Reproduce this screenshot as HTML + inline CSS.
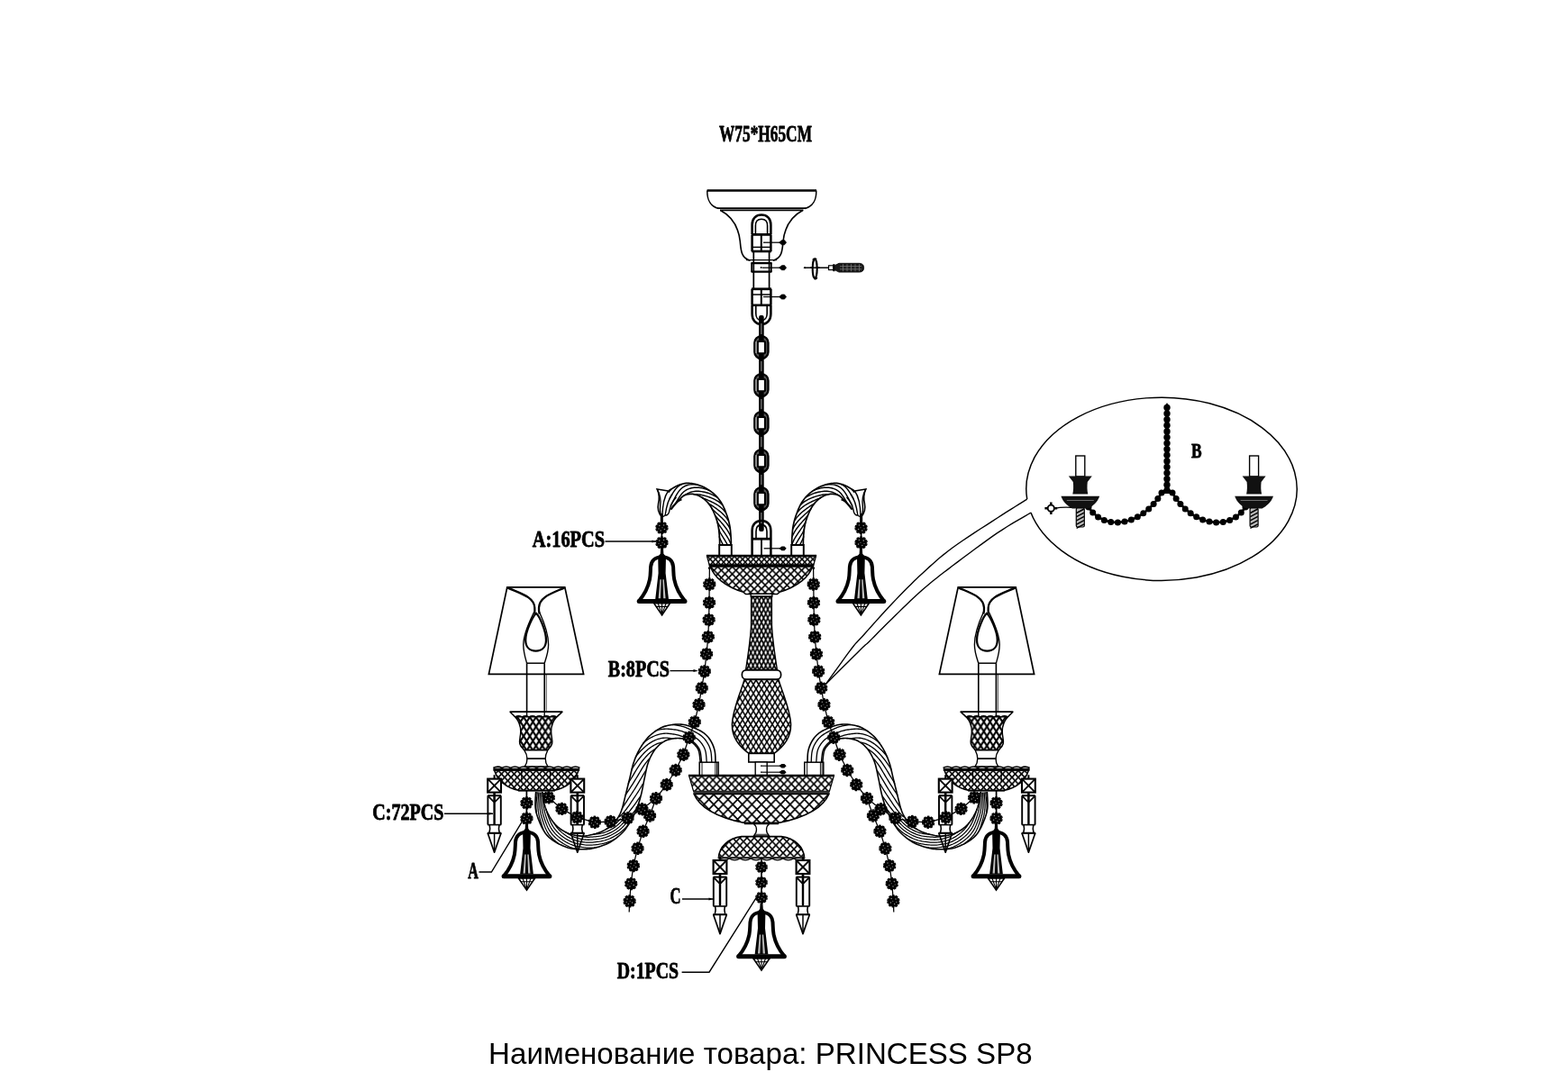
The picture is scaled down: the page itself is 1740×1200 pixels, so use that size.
<!DOCTYPE html>
<html lang="ru"><head><meta charset="utf-8"><title>PRINCESS SP8</title>
<style>html,body{margin:0;padding:0;background:#fff}svg{display:block;will-change:transform;filter:grayscale(1)}</style></head>
<body>
<svg width="1740" height="1200" viewBox="0 0 1740 1200">
<rect width="1740" height="1200" fill="#fff"/>
<defs>
<g id="bead"><circle r="6.3" fill="#000"/><circle r="6.55" fill="none" stroke="#000" stroke-width="1.3" stroke-dasharray="2.7 1.415"/><circle cx="-2.6" cy="-2.4" r="0.8" fill="#909090"/><circle cx="2.2" cy="-3" r="0.75" fill="#909090"/><circle cx="3" cy="1.6" r="0.8" fill="#909090"/><circle cx="-1.2" cy="3.1" r="0.75" fill="#909090"/><circle cx="-3.4" cy="1" r="0.6" fill="#909090"/><circle cx="0.6" cy="-0.2" r="0.55" fill="#909090"/></g>
<pattern id="hx" width="4.6" height="4.6" patternUnits="userSpaceOnUse"><path d="M-1 -1L5.6 5.6M-1 5.6L5.6 -1M-1 3.6L1 5.6M3.6 -1L5.6 1M-1 1L1 -1M3.6 5.6L5.6 3.6" stroke="#000" stroke-width="1.15" fill="none"/></pattern>
<pattern id="hx2" width="5.4" height="5.4" patternUnits="userSpaceOnUse"><path d="M0 0L5.4 5.4M0 5.4L5.4 0" stroke="#000" stroke-width="1.15" fill="none"/></pattern>
<pattern id="net" width="5.5" height="11" patternUnits="userSpaceOnUse" x="845" y="0"><path d="M0 0L5.5 11M0 11L5.5 0" stroke="#000" stroke-width="1.1" fill="none"/></pattern>
<pattern id="net2" width="6" height="10" patternUnits="userSpaceOnUse" x="845" y="0"><path d="M0 0L6 10M0 10L6 0" stroke="#000" stroke-width="1.1" fill="none"/></pattern>
<pattern id="cup" width="5.2" height="7.4" patternUnits="userSpaceOnUse" x="594.6" y="795"><path d="M0 0L5.2 7.4M0 7.4L5.2 0" stroke="#000" stroke-width="1.6" fill="none"/></pattern>
<g id="bell"><path d="M-25.6 51C-19.6 44 -15.4 36 -13.6 27C-12.6 22 -12.8 17 -12.5 13C-12 6.6 -7.6 2.1 0 2.1C7.6 2.1 12 6.6 12.5 13C12.8 17 12.6 22 13.6 27C15.4 36 19.6 44 25.6 51" fill="none" stroke="#000" stroke-width="4" stroke-linejoin="round"/><path d="M-25.4 51.2H25.4" stroke="#000" stroke-width="5" fill="none" stroke-linecap="round"/><path d="M-1.4 -8L-1.8 -1.5L-5 2.5H5L1.8 -1.5L1.4 -8Z" fill="#000"/><path d="M-4.4 2H4.4L4 20L7.4 49H-7.4L-4 20Z" fill="#000"/><path d="M-2.2 27L-4 48H-1.6L-0.8 27ZM2.2 27L4 48H1.6L0.8 27Z" fill="#fff" opacity="0.75"/><path d="M-9 53.4L0 66.6L9 53.4Z" fill="#fff" stroke="#000" stroke-width="1.6" stroke-linejoin="miter"/><path d="M-4.5 53.4L0 66M4.5 53.4L0 66M0 53.4V66M-6.6 57.2H6.6" stroke="#000" stroke-width="1.1" fill="none"/></g>
<g id="crystal" fill="none" stroke="#000" stroke-width="1.8"><path d="M0 -4V0" stroke-width="2"/><rect x="-7.4" y="0.4" width="14.8" height="15" fill="#fff" stroke-width="2.1"/><path d="M-7.4 0.4L7.4 15.4M7.4 0.4L-7.4 15.4" stroke-width="1.9"/><path d="M0 15.5V26" stroke-width="2.6"/><path d="M-7.4 19H7.4" stroke-width="2"/><path d="M-7.2 19V51.2M7.2 19V51.2" stroke-width="1.9"/><path d="M-7 19.5L0 26.6L7 19.5" stroke-width="1.8"/><path d="M0 26.6V51" stroke-width="2.4"/><path d="M-7.6 51.4H7.6" stroke-width="1.6"/><path d="M-5.4 51.4C-4.6 54.5 -4.6 57 -5.6 60M5.4 51.4C4.6 54.5 4.6 57 5.6 60" stroke-width="1.6"/><path d="M-7.8 60.6H7.8" stroke-width="2.1"/><path d="M-7.4 60.6L0 82L7.4 60.6" stroke-width="1.7" stroke-linejoin="round"/><path d="M0 60.6V81" stroke-width="1.5"/></g>
<g id="link"><rect x="-7.6" y="-12.5" width="15.2" height="25" rx="7.4" fill="#555" stroke="#000" stroke-width="2.3"/><rect x="-4.1" y="-6.8" width="8.2" height="13.6" rx="1.6" fill="#fff" stroke="#000" stroke-width="2.2"/><path d="M-5.9 -6.5V6.5" stroke="#ddd" stroke-width="1" fill="none"/></g>
<pattern id="ubrim" width="6" height="6.4" patternUnits="userSpaceOnUse" x="845" y="617.6"><path d="M0 0L6 6.4M0 6.4L6 0" stroke="#000" stroke-width="1.55" fill="none" stroke-linecap="square"/></pattern>
<pattern id="ubowl" width="8.1" height="8.2" patternUnits="userSpaceOnUse" x="845" y="629"><path d="M0 0L8.1 8.2M0 8.2L8.1 0" stroke="#000" stroke-width="1.67" fill="none" stroke-linecap="square"/></pattern>
<pattern id="lbrim" width="8.3" height="8.8" patternUnits="userSpaceOnUse" x="845" y="861.5"><path d="M0 0L8.3 8.8M0 8.8L8.3 0" stroke="#000" stroke-width="1.61" fill="none" stroke-linecap="square"/></pattern>
<pattern id="lbowl" width="10.6" height="11" patternUnits="userSpaceOnUse" x="845" y="882"><path d="M0 0L10.6 11M0 11L10.6 0" stroke="#000" stroke-width="1.67" fill="none" stroke-linecap="square"/></pattern>
<pattern id="stem" width="4.7" height="9.6" patternUnits="userSpaceOnUse" x="845" y="662"><path d="M0 0L4.7 9.6M0 9.6L4.7 0" stroke="#000" stroke-width="1.7" fill="none" stroke-linecap="square"/></pattern>
<pattern id="bulb" width="6" height="9.8" patternUnits="userSpaceOnUse" x="845" y="755"><path d="M0 0L6 9.8M0 9.8L6 0" stroke="#000" stroke-width="1.6" fill="none" stroke-linecap="square"/></pattern>
<pattern id="dome" width="8" height="8.4" patternUnits="userSpaceOnUse" x="845" y="930"><path d="M0 0L8 8.4M0 8.4L8 0" stroke="#000" stroke-width="1.61" fill="none" stroke-linecap="square"/></pattern>
<pattern id="dish" width="7" height="7.4" patternUnits="userSpaceOnUse" x="595" y="855.5"><path d="M0 0L7 7.4M0 7.4L7 0" stroke="#000" stroke-width="1.7" fill="none" stroke-linecap="square"/></pattern>
<pattern id="cupp" width="6.9" height="10.6" patternUnits="userSpaceOnUse" x="594.8" y="796"><path d="M0 0L6.9 10.6M0 10.6L6.9 0" stroke="#000" stroke-width="2.15" fill="none" stroke-linecap="square"/></pattern>
</defs>
<path d="M784.6 211.4H906 " fill="none" stroke="#000" stroke-width="2.53" />
<path d="M784.8 211.4C784.6 221 787 228.5 797.5 231.6M905.8 211.4C906 221 903.6 228.5 893 231.6" fill="none" stroke="#000" stroke-width="1.49" />
<path d="M796 231.2H894.5" fill="none" stroke="#000" stroke-width="1.84" />
<path d="M799 233.4H891.5" fill="none" stroke="#000" stroke-width="1.84" />
<path d="M799.5 233.5C812 240 819.5 252 821.3 268C822.2 278 822.5 286.5 832.5 289.2" fill="none" stroke="#000" stroke-width="1.61" />
<path d="M890.8 233.5C878.3 240 870.8 252 869 268C868.1 278 867.8 286.5 857.8 289.2" fill="none" stroke="#000" stroke-width="1.61" />
<path d="M828 288.6H862" fill="none" stroke="#000" stroke-width="1.38" />
<path d="M834.6 260V249.5C834.6 242.5 839 238.6 845 238.6C851 238.6 855.4 242.5 855.4 249.5V260" fill="none" stroke="#000" stroke-width="2.53" />
<path d="M838.4 260V250.5C838.4 245.8 841 243.2 845 243.2C849 243.2 851.6 245.8 851.6 250.5V260" fill="none" stroke="#000" stroke-width="1.61" />
<path d="M834 260.4H856" fill="none" stroke="#000" stroke-width="2.76" />
<path d="M834 279H856" fill="none" stroke="#000" stroke-width="2.6" />
<path d="M834.6 260.4V279 M855.4 260.4V279" fill="none" stroke="#000" stroke-width="2.53" />
<path d="M844.8 260.4V279" fill="none" stroke="#000" stroke-width="2.07" />
<path d="M834.6 274.4H855.4" fill="none" stroke="#000" stroke-width="1.49" />
<path d="M836.3 279V321M853.6 279V321" fill="none" stroke="#000" stroke-width="1.72" />
<path d="M833.6 292.2H856.4M833.6 301.7H856.4" fill="none" stroke="#000" stroke-width="2.3" />
<path d="M834.2 291.6V302M855.8 291.6V302" fill="none" stroke="#000" stroke-width="1.84" />
<circle cx="844.7" cy="297" r="1" fill="#000"/>
<path d="M834 320.8H856" fill="none" stroke="#000" stroke-width="2.76" />
<path d="M834 338.8H856" fill="none" stroke="#000" stroke-width="2.6" />
<path d="M834.6 320.8V338.8 M855.4 320.8V338.8" fill="none" stroke="#000" stroke-width="2.53" />
<path d="M844.8 320.8V338.8" fill="none" stroke="#000" stroke-width="2.07" />
<path d="M834.6 327H855.4" fill="none" stroke="#000" stroke-width="1.49" />
<path d="M834.6 339V348.5C834.6 355.5 839 360 845 360C851 360 855.4 355.5 855.4 348.5V339" fill="none" stroke="#000" stroke-width="2.53" />
<path d="M838.8 339V348C838.8 352.6 841.2 355.8 845 355.8C848.8 355.8 851.2 352.6 851.2 348V339" fill="none" stroke="#000" stroke-width="1.61" />
<path d="M847 269.2H866" fill="none" stroke="#000" stroke-width="1.26" />
<path d="M864.6 269.2 L867.5 266.7 L870.5 266.6 L872.6 269.2 L870.5 271.8 L867.5 271.7 Z" fill="#000" stroke="#000" stroke-width="0.69" />
<path d="M846 297.2H866" fill="none" stroke="#000" stroke-width="1.26" />
<path d="M864.6 297.2 L867.5 294.7 L870.5 294.6 L872.6 297.2 L870.5 299.8 L867.5 299.7 Z" fill="#000" stroke="#000" stroke-width="0.69" />
<path d="M847 329.5H866" fill="none" stroke="#000" stroke-width="1.26" />
<path d="M864.6 329.5 L867.5 327 L870.5 326.9 L872.6 329.5 L870.5 332.1 L867.5 332 Z" fill="#000" stroke="#000" stroke-width="0.69" />
<path d="M892 297.2H920" fill="none" stroke="#000" stroke-width="1.49" />
<path d="M891.5 297.2l2.2 -1.2v2.4z" fill="#000"/>
<ellipse cx="904.2" cy="298.3" rx="2.5" ry="10.6" fill="#fff" stroke="#000" stroke-width="2.1"/>
<path d="M901.8 288.6C903 286.6 905.2 286.4 906 288M903.5 309.3C905 310.4 906.3 309.6 906.6 308" fill="none" stroke="#000" stroke-width="1.49" />
<path d="M899 297.2H909.5" fill="none" stroke="#000" stroke-width="1.49" />
<rect x="919.6" y="294.8" width="5" height="4.8" rx="0" fill="#fff" stroke="#000" stroke-width="1.15"/>
<path d="M925.4 293.2V301.2" fill="none" stroke="#000" stroke-width="2.3" />
<path d="M926.5 294.6 L931 292.3 H953 C957.5 292.3 958.6 294.7 958.6 297.2 C958.6 299.7 957.5 302.1 953 302.1 H931 L926.5 299.8 Z" fill="#1a1a1a" stroke="#000" stroke-width="0.8"/>
<path d="M935.5 293.2V301.2M940 293.2V301.2M944.5 293.2V301.2M949 293.2V301.2M953.5 293.2V301.2" fill="none" stroke="#777" stroke-width="0.8" />
<path d="M932 295.7H956M932 298.8H956" fill="none" stroke="#777" stroke-width="0.8" />
<use href="#link" x="844.9" y="385.6" />
<use href="#link" x="844.9" y="427.6" />
<use href="#link" x="844.9" y="469.6" />
<use href="#link" x="844.9" y="511.6" />
<use href="#link" x="844.9" y="553.6" />
<rect x="842.1" y="350" width="5.6" height="30" rx="2" fill="#000"/>
<path d="M844.9 359V371" fill="none" stroke="#aaa" stroke-width="0.92" />
<rect x="842.1" y="392" width="5.6" height="29.2" rx="2" fill="#000"/>
<path d="M844.9 401V412.2" fill="none" stroke="#aaa" stroke-width="0.92" />
<rect x="842.1" y="434" width="5.6" height="29.2" rx="2" fill="#000"/>
<path d="M844.9 443V454.2" fill="none" stroke="#aaa" stroke-width="0.92" />
<rect x="842.1" y="476" width="5.6" height="29.2" rx="2" fill="#000"/>
<path d="M844.9 485V496.2" fill="none" stroke="#aaa" stroke-width="0.92" />
<rect x="842.1" y="518" width="5.6" height="29.2" rx="2" fill="#000"/>
<path d="M844.9 527V538.2" fill="none" stroke="#aaa" stroke-width="0.92" />
<rect x="842.1" y="560" width="5.6" height="30" rx="2" fill="#000"/>
<path d="M844.9 569V581" fill="none" stroke="#aaa" stroke-width="0.92" />
<path d="M834.6 598V589C834.6 582 839 578 845 578C851 578 855.4 582 855.4 589V598" fill="none" stroke="#000" stroke-width="2.53" />
<path d="M839 598V590C839 585.5 841.3 582.6 845 582.6C848.7 582.6 851 585.5 851 590V598" fill="none" stroke="#000" stroke-width="1.61" />
<path d="M834 598.2H856" fill="none" stroke="#000" stroke-width="2.76" />
<path d="M834.6 598V617M855.4 598V617" fill="none" stroke="#000" stroke-width="2.53" />
<path d="M845 598V617" fill="none" stroke="#000" stroke-width="1.84" />
<path d="M847.6 608.8H866" fill="none" stroke="#000" stroke-width="1.26" />
<path d="M864.5 608.8l3 -2.4h3l2.2 2.4l-2.2 2.4h-3z" fill="#000"/>
<rect x="798.2" y="605" width="13.6" height="12" rx="0" fill="#fff" stroke="#000" stroke-width="1.95"/>
<rect x="878.2" y="605" width="13.6" height="12" rx="0" fill="#fff" stroke="#000" stroke-width="1.95"/>
<path d="M784.4 617H905.6L902.8 627.3H787.2Z" fill="#fff" stroke="none"/>
<path d="M784.4 617H905.6L902.8 627.3H787.2Z" fill="url(#ubrim)" stroke="#000" stroke-width="1.2"/>
<path d="M784 617H906" fill="none" stroke="#000" stroke-width="2.3" />
<path d="M786.8 627.6H903.2" fill="none" stroke="#000" stroke-width="2.8" />
<path d="M788.5 629C792 640 804 651 825 657.4L827.5 659.5H862.5L865 657.4C886 651 898 640 901.5 629Z" fill="#fff" stroke="none"/>
<path d="M788.5 629C792 640 804 651 825 657.4L827.5 659.5H862.5L865 657.4C886 651 898 640 901.5 629Z" fill="url(#ubowl)" stroke="#000" stroke-width="1.5"/>
<circle cx="787.4" cy="630.5" r="1.5" fill="#000"/><circle cx="902.6" cy="630.5" r="1.5" fill="#000"/>
<rect x="833.2" y="659.2" width="23.6" height="3" rx="0" fill="#fff" stroke="#000" stroke-width="1.38"/>
<path d="M833.6 662.2V690C833.6 706 830.5 724 827.6 743.5H862.4C859.5 724 856.4 706 856.4 690V662.2Z" fill="#fff" stroke="none"/>
<path d="M833.6 662.2V690C833.6 706 830.5 724 827.6 743.5H862.4C859.5 724 856.4 706 856.4 690V662.2Z" fill="url(#stem)" stroke="#000" stroke-width="1.4"/>
<rect x="823.4" y="743.8" width="43.2" height="10.2" rx="4.6" fill="#fff" stroke="#000" stroke-width="1.72"/>
<path d="M826 754.5C823 766 812.4 789 812.4 805C812.4 820 822 830 831 836.3H859C868 830 877.6 820 877.6 805C877.6 789 867 766 864 754.5Z" fill="#fff" stroke="none"/>
<path d="M826 754.5C823 766 812.4 789 812.4 805C812.4 820 822 830 831 836.3H859C868 830 877.6 820 877.6 805C877.6 789 867 766 864 754.5Z" fill="url(#bulb)" stroke="#000" stroke-width="1.5"/>
<rect x="830.8" y="836.4" width="28.4" height="9.6" rx="0" fill="#fff" stroke="#000" stroke-width="1.61"/>
<rect x="838.2" y="846" width="13" height="14.6" rx="0" fill="#fff" stroke="#000" stroke-width="1.38"/>
<circle cx="845" cy="850.2" r="0.9" fill="#000"/>
<path d="M846 850.2H866" fill="none" stroke="#000" stroke-width="1.15" />
<path d="M864.4 850.2l3 -2.2h3l2.2 2.2l-2.2 2.2h-3z" fill="#000"/>
<circle cx="845" cy="857.2" r="0.9" fill="#000"/>
<path d="M846 857.2H866" fill="none" stroke="#000" stroke-width="1.15" />
<path d="M864.4 857.2l3 -2.2h3l2.2 2.2l-2.2 2.2h-3z" fill="#000"/>
<rect x="776.2" y="846.2" width="21" height="15" rx="0" fill="#fff" stroke="#000" stroke-width="1.49"/>
<path d="M779 846.2V861M793.8 846.2V861M795.5 846.2V861" fill="none" stroke="#000" stroke-width="0.92" />
<rect x="892.8" y="846.2" width="21" height="15" rx="0" fill="#fff" stroke="#000" stroke-width="1.49"/>
<path d="M895.6 846.2V861M910.4 846.2V861M912.1 846.2V861" fill="none" stroke="#000" stroke-width="0.92" />
<path d="M764.6 861H925.4L920.4 878.4H769.6Z" fill="#fff" stroke="none"/>
<path d="M764.6 861H925.4L920.4 878.4H769.6Z" fill="url(#lbrim)" stroke="#000" stroke-width="1.2"/>
<path d="M764 861H926" fill="none" stroke="#000" stroke-width="2.53" />
<path d="M769.4 879.7H920.6" fill="none" stroke="#333" stroke-width="3" />
<path d="M770.2 881.6C775 893 790 906 826 913.6H864C900 906 915 893 919.8 881.6Z" fill="#fff" stroke="none"/>
<path d="M770.2 881.6C775 893 790 906 826 913.6H864C900 906 915 893 919.8 881.6Z" fill="url(#lbowl)" stroke="#000" stroke-width="1.5"/>
<path d="M826 914H864" fill="none" stroke="#000" stroke-width="2.3" />
<path d="M836.4 914.6C840.5 918 840.5 924 836.4 928H853.6C849.5 924 849.5 918 853.6 914.6Z" fill="#fff" stroke="#000" stroke-width="1.3"/>
<path d="M838 926.6H852" fill="none" stroke="#555" stroke-width="1.84" />
<path d="M797.4 952.4C798 940 808 930.5 823 928.6H867C882 930.5 892 940 892.6 952.4Z" fill="#fff" stroke="none"/>
<path d="M797.4 952.4C798 940 808 930.5 823 928.6H867C882 930.5 892 940 892.6 952.4Z" fill="url(#dome)" stroke="#000" stroke-width="1.6"/>
<path d="M797.4 952.6Q803.35 956.8 809.3 953Q815.25 956.8 821.2 953Q827.15 956.8 833.1 953Q839.05 956.8 845 953Q850.95 956.8 856.9 953Q862.85 956.8 868.8 953Q874.75 956.8 880.7 953Q886.65 956.8 892.6 953" fill="none" stroke="#000" stroke-width="1.26" />
<path d="M797.4 951.6H892.6" fill="none" stroke="#444" stroke-width="1.15" />
<use href="#crystal" x="799" y="954.6" />
<use href="#crystal" x="891" y="954.6" />
<path d="M845 952V1012" fill="none" stroke="#000" stroke-width="1.61" />
<use href="#bead" x="845" y="962.5" transform="translate(845 962.5) scale(0.95) translate(-845 -962.5)"/>
<use href="#bead" x="845" y="979.6" transform="translate(845 979.6) scale(0.95) translate(-845 -979.6)"/>
<use href="#bead" x="845" y="996.4" transform="translate(845 996.4) scale(0.95) translate(-845 -996.4)"/>
<use href="#bell" x="845" y="1010.6" />
<path d="M811.3 605 L811.3 604.5 L811.31 603.88 L811.32 603.15 L811.33 602.31 L811.32 601.37 L811.3 600.34 L811.27 599.21 L811.2 598 L811.12 596.66 L811.02 595.16 L810.92 593.54 L810.79 591.84 L810.64 590.1 L810.47 588.36 L810.25 586.64 L810 585 L809.72 583.43 L809.42 581.89 L809.09 580.36 L808.73 578.84 L808.32 577.31 L807.87 575.75 L807.37 574.15 L806.8 572.5 L806.17 570.76 L805.5 568.93 L804.77 567.05 L803.99 565.14 L803.16 563.25 L802.29 561.41 L801.37 559.65 L800.4 558 L799.39 556.45 L798.34 554.96 L797.24 553.54 L796.09 552.17 L794.9 550.85 L793.65 549.59 L792.35 548.37 L791 547.2 L789.58 546.07 L788.09 544.97 L786.53 543.92 L784.93 542.93 L783.3 541.99 L781.64 541.12 L779.97 540.32 L778.3 539.6 L776.6 538.95 L774.85 538.36 L773.07 537.84 L771.27 537.39 L769.48 537.01 L767.73 536.72 L766.03 536.51 L764.4 536.4 L762.86 536.39 L761.38 536.47 L759.95 536.64 L758.55 536.9 L757.17 537.23 L755.8 537.63 L754.41 538.09 L753 538.6 L751.49 539.24 L749.86 540.05 L748.19 540.97 L746.54 541.94 L744.97 542.88 L743.57 543.75 L742.39 544.48 L741.5 545" fill="none" stroke="#000" stroke-width="1.72" />
<path d="M798.6 605 L798.6 604.5 L798.61 603.87 L798.62 603.13 L798.62 602.28 L798.62 601.34 L798.6 600.3 L798.57 599.19 L798.5 598 L798.41 596.69 L798.32 595.23 L798.21 593.65 L798.07 592 L797.92 590.32 L797.75 588.65 L797.54 587.03 L797.3 585.5 L797.04 584.06 L796.75 582.66 L796.45 581.3 L796.11 579.95 L795.75 578.61 L795.34 577.26 L794.89 575.9 L794.4 574.5 L793.86 573.05 L793.27 571.55 L792.64 570.02 L791.97 568.49 L791.27 566.98 L790.54 565.51 L789.78 564.11 L789 562.8 L788.2 561.57 L787.36 560.39 L786.5 559.26 L785.61 558.18 L784.7 557.16 L783.75 556.18 L782.79 555.26 L781.8 554.4 L780.78 553.58 L779.71 552.81 L778.61 552.09 L777.49 551.42 L776.36 550.82 L775.22 550.27 L774.1 549.8 L773 549.4 L771.91 549.07 L770.82 548.81 L769.73 548.61 L768.64 548.48 L767.56 548.41 L766.5 548.41 L765.44 548.47 L764.4 548.6 L763.41 548.75 L762.47 548.92 L761.57 549.12 L760.66 549.41 L759.73 549.8 L758.75 550.34 L757.68 551.06 L756.5 552 L755.11 553.3 L753.51 554.98 L751.77 556.92 L750.01 558.96 L748.3 560.98 L746.75 562.84 L745.45 564.39 L744.5 565.5" fill="none" stroke="#000" stroke-width="1.72" />
<path d="M811.3 605 L811.14 604.5 L810.93 603.88 L810.67 603.15 L810.35 602.31 L809.95 601.37 L809.47 600.33 L808.9 599.21 L808.23 598 L807.44 596.67 L806.52 595.18 L805.49 593.59 L804.38 591.92 L803.22 590.23 L802.06 588.55 L800.93 586.93 L799.86 585.4 L798.85 583.97 L797.91 582.59 L797.02 581.25 L796.18 579.94 L795.75 578.61M808.32 577.31 L807.89 577.36 L806.87 575.87 L805.71 574.39 L804.41 572.89 L802.95 571.36 L801.36 569.82 L799.66 568.3 L797.89 566.84 L796.11 565.46 L794.35 564.18 L792.66 563 L791.05 561.94 L789.53 560.96 L788.09 560.03 L786.73 559.14 L785.61 558.18M796.09 552.17 L795.91 552.27 L794.31 551.22 L792.65 550.26 L790.94 549.39 L789.2 548.61 L787.41 547.92 L785.6 547.3 L783.77 546.77 L781.96 546.32 L780.18 545.95 L778.45 545.66 L776.79 545.45 L775.21 545.32 L773.67 545.27 L772.17 545.32 L770.71 545.44 L769.32 545.64 L767.98 545.91 L766.72 546.25 L765.53 546.65 L764.4 547.11 L763.35 547.57 L762.39 548.03 L761.49 548.51 L760.6 549.05 L759.71 549.7 L758.75 550.34M755.8 537.63 L755.83 537.78 L754.53 538.54 L753.22 539.43 L751.84 540.6 L750.37 542.15 L748.88 544.03 L747.4 546.17 L745.99 548.43 L744.72 550.65 L743.64 552.61 L742.83 554.09M807.44 605 L807.16 604.5 L806.82 603.88 L806.41 603.14 L805.93 602.3 L805.37 601.35 L804.75 600.32 L804.06 599.2 L803.3 598 L802.46 596.68 L801.56 595.21 L800.63 593.63 L799.71 591.98 L798.83 590.3 L798.01 588.64 L797.54 587.03M810.25 586.64 L809.96 586.65 L809.11 585.03 L808.19 583.5 L807.2 582.02 L806.14 580.58 L805 579.17 L803.79 577.78 L802.49 576.4 L801.12 575.03 L799.67 573.65 L798.14 572.25 L796.58 570.84 L795.01 569.44 L793.49 568.06 L792.04 566.74 L790.68 565.46 L789.78 564.11M801.37 559.65 L800.96 559.81 L799.4 558.42 L797.77 557.19 L796.08 556.08 L794.35 555.08 L792.6 554.17 L790.85 553.35 L789.1 552.62 L787.38 551.96 L785.67 551.37 L783.99 550.84 L782.31 550.37 L780.68 549.96 L779.08 549.6 L777.55 549.3 L776.09 549.04 L774.69 548.84 L773.38 548.7 L772.11 548.63 L770.89 548.62 L769.73 548.61M773.07 537.84 L773.05 537.9 L771.19 537.72 L769.37 537.65 L767.62 537.69 L765.96 537.85 L764.4 538.12 L762.95 538.49 L761.59 538.95 L760.32 539.5 L759.1 540.13 L757.92 540.88 L756.75 541.75 L755.59 542.78 L754.41 544 L753.13 545.6 L751.72 547.68 L750.25 550.13 L748.75 552.8 L747.3 555.52 L745.96 558.08 L744.82 560.27 L743.97 561.87M802.46 605 L802.19 604.5 L801.86 603.87 L801.49 603.13 L801.07 602.29 L800.61 601.34 L800.12 600.3 L799.61 599.19 L799.07 598 L798.52 596.69 L798.32 595.23M811.02 595.16 L810.64 595.16 L809.92 593.55 L809.07 591.86 L808.1 590.15 L807.03 588.43 L805.9 586.77 L804.73 585.21 L803.56 583.73 L802.4 582.32 L801.23 580.94 L800.06 579.6 L798.89 578.29 L797.71 576.98 L796.53 575.67 L795.35 574.35 L794.18 572.99 L793.27 571.55M805.5 568.93 L805.25 568.98 L803.87 567.27 L802.34 565.6 L800.69 564.03 L798.95 562.57 L797.17 561.26 L795.38 560.11 L793.61 559.09 L791.86 558.17 L790.15 557.31 L788.5 556.52 L786.91 555.79 L785.38 555.1 L783.9 554.46 L782.48 553.87 L781.1 553.31 L779.74 552.78 L778.61 552.09M786.53 543.92 L786.32 544.14 L784.49 543.43 L782.64 542.82 L780.81 542.3 L779 541.87 L777.24 541.56 L775.49 541.34 L773.74 541.23 L772.02 541.22 L770.34 541.32 L768.73 541.51 L767.19 541.8 L765.75 542.18 L764.4 542.65 L763.16 543.17 L762.01 543.72 L760.94 544.33 L759.92 545.01 L758.92 545.8 L757.91 546.73 L756.87 547.84 L755.76 549.17 L754.5 550.91 L753.06 553.14 L751.5 555.68 L749.88 558.37 L748.3 560.98M744.97 542.88 L744.98 542.91 L743.68 544.41 L742.59 545.78 L741.77 546.84" fill="none" stroke="#000" stroke-width="1.44" />
<path d="M741.5 545L729.2 543C731.5 548 732 553 730.6 559C729.6 564 729.8 568.5 734.2 573.5" fill="none" stroke="#000" stroke-width="1.67" />
<path d="M729.2 543C733 549 733.5 556 732.6 563C732.2 567 732.8 570.5 734.4 573.2" fill="none" stroke="#000" stroke-width="1.38" />
<path d="M741.5 545C736.5 552 735.2 561 735 573" fill="none" stroke="#000" stroke-width="1.38" />
<path d="M746 548.5C741 555 739.4 563 738.2 571.5C737.5 573 736 573.6 734.4 573.4" fill="none" stroke="#000" stroke-width="1.38" />
<path d="M750.5 552C745.5 557 743.5 563 742.3 569C741.2 571.6 739.6 572.4 738 571.8" fill="none" stroke="#000" stroke-width="1.38" />
<path d="M744.5 565.5C747 560.5 751.5 556.5 756.5 554.5" fill="none" stroke="#000" stroke-width="1.72" />
<path d="M734.3 570V580" fill="none" stroke="#000" stroke-width="3" />
<path d="M734.4 572V617" fill="none" stroke="#000" stroke-width="1.72" />
<use href="#bead" x="734.4" y="585.9" />
<use href="#bead" x="734.4" y="602.5" />
<use href="#bell" x="734.6" y="616.2" />
<g transform="translate(1690 0) scale(-1 1)">
<path d="M811.3 605 L811.3 604.5 L811.31 603.88 L811.32 603.15 L811.33 602.31 L811.32 601.37 L811.3 600.34 L811.27 599.21 L811.2 598 L811.12 596.66 L811.02 595.16 L810.92 593.54 L810.79 591.84 L810.64 590.1 L810.47 588.36 L810.25 586.64 L810 585 L809.72 583.43 L809.42 581.89 L809.09 580.36 L808.73 578.84 L808.32 577.31 L807.87 575.75 L807.37 574.15 L806.8 572.5 L806.17 570.76 L805.5 568.93 L804.77 567.05 L803.99 565.14 L803.16 563.25 L802.29 561.41 L801.37 559.65 L800.4 558 L799.39 556.45 L798.34 554.96 L797.24 553.54 L796.09 552.17 L794.9 550.85 L793.65 549.59 L792.35 548.37 L791 547.2 L789.58 546.07 L788.09 544.97 L786.53 543.92 L784.93 542.93 L783.3 541.99 L781.64 541.12 L779.97 540.32 L778.3 539.6 L776.6 538.95 L774.85 538.36 L773.07 537.84 L771.27 537.39 L769.48 537.01 L767.73 536.72 L766.03 536.51 L764.4 536.4 L762.86 536.39 L761.38 536.47 L759.95 536.64 L758.55 536.9 L757.17 537.23 L755.8 537.63 L754.41 538.09 L753 538.6 L751.49 539.24 L749.86 540.05 L748.19 540.97 L746.54 541.94 L744.97 542.88 L743.57 543.75 L742.39 544.48 L741.5 545" fill="none" stroke="#000" stroke-width="1.72" />
<path d="M798.6 605 L798.6 604.5 L798.61 603.87 L798.62 603.13 L798.62 602.28 L798.62 601.34 L798.6 600.3 L798.57 599.19 L798.5 598 L798.41 596.69 L798.32 595.23 L798.21 593.65 L798.07 592 L797.92 590.32 L797.75 588.65 L797.54 587.03 L797.3 585.5 L797.04 584.06 L796.75 582.66 L796.45 581.3 L796.11 579.95 L795.75 578.61 L795.34 577.26 L794.89 575.9 L794.4 574.5 L793.86 573.05 L793.27 571.55 L792.64 570.02 L791.97 568.49 L791.27 566.98 L790.54 565.51 L789.78 564.11 L789 562.8 L788.2 561.57 L787.36 560.39 L786.5 559.26 L785.61 558.18 L784.7 557.16 L783.75 556.18 L782.79 555.26 L781.8 554.4 L780.78 553.58 L779.71 552.81 L778.61 552.09 L777.49 551.42 L776.36 550.82 L775.22 550.27 L774.1 549.8 L773 549.4 L771.91 549.07 L770.82 548.81 L769.73 548.61 L768.64 548.48 L767.56 548.41 L766.5 548.41 L765.44 548.47 L764.4 548.6 L763.41 548.75 L762.47 548.92 L761.57 549.12 L760.66 549.41 L759.73 549.8 L758.75 550.34 L757.68 551.06 L756.5 552 L755.11 553.3 L753.51 554.98 L751.77 556.92 L750.01 558.96 L748.3 560.98 L746.75 562.84 L745.45 564.39 L744.5 565.5" fill="none" stroke="#000" stroke-width="1.72" />
<path d="M811.3 605 L811.14 604.5 L810.93 603.88 L810.67 603.15 L810.35 602.31 L809.95 601.37 L809.47 600.33 L808.9 599.21 L808.23 598 L807.44 596.67 L806.52 595.18 L805.49 593.59 L804.38 591.92 L803.22 590.23 L802.06 588.55 L800.93 586.93 L799.86 585.4 L798.85 583.97 L797.91 582.59 L797.02 581.25 L796.18 579.94 L795.75 578.61M808.32 577.31 L807.89 577.36 L806.87 575.87 L805.71 574.39 L804.41 572.89 L802.95 571.36 L801.36 569.82 L799.66 568.3 L797.89 566.84 L796.11 565.46 L794.35 564.18 L792.66 563 L791.05 561.94 L789.53 560.96 L788.09 560.03 L786.73 559.14 L785.61 558.18M796.09 552.17 L795.91 552.27 L794.31 551.22 L792.65 550.26 L790.94 549.39 L789.2 548.61 L787.41 547.92 L785.6 547.3 L783.77 546.77 L781.96 546.32 L780.18 545.95 L778.45 545.66 L776.79 545.45 L775.21 545.32 L773.67 545.27 L772.17 545.32 L770.71 545.44 L769.32 545.64 L767.98 545.91 L766.72 546.25 L765.53 546.65 L764.4 547.11 L763.35 547.57 L762.39 548.03 L761.49 548.51 L760.6 549.05 L759.71 549.7 L758.75 550.34M755.8 537.63 L755.83 537.78 L754.53 538.54 L753.22 539.43 L751.84 540.6 L750.37 542.15 L748.88 544.03 L747.4 546.17 L745.99 548.43 L744.72 550.65 L743.64 552.61 L742.83 554.09M807.44 605 L807.16 604.5 L806.82 603.88 L806.41 603.14 L805.93 602.3 L805.37 601.35 L804.75 600.32 L804.06 599.2 L803.3 598 L802.46 596.68 L801.56 595.21 L800.63 593.63 L799.71 591.98 L798.83 590.3 L798.01 588.64 L797.54 587.03M810.25 586.64 L809.96 586.65 L809.11 585.03 L808.19 583.5 L807.2 582.02 L806.14 580.58 L805 579.17 L803.79 577.78 L802.49 576.4 L801.12 575.03 L799.67 573.65 L798.14 572.25 L796.58 570.84 L795.01 569.44 L793.49 568.06 L792.04 566.74 L790.68 565.46 L789.78 564.11M801.37 559.65 L800.96 559.81 L799.4 558.42 L797.77 557.19 L796.08 556.08 L794.35 555.08 L792.6 554.17 L790.85 553.35 L789.1 552.62 L787.38 551.96 L785.67 551.37 L783.99 550.84 L782.31 550.37 L780.68 549.96 L779.08 549.6 L777.55 549.3 L776.09 549.04 L774.69 548.84 L773.38 548.7 L772.11 548.63 L770.89 548.62 L769.73 548.61M773.07 537.84 L773.05 537.9 L771.19 537.72 L769.37 537.65 L767.62 537.69 L765.96 537.85 L764.4 538.12 L762.95 538.49 L761.59 538.95 L760.32 539.5 L759.1 540.13 L757.92 540.88 L756.75 541.75 L755.59 542.78 L754.41 544 L753.13 545.6 L751.72 547.68 L750.25 550.13 L748.75 552.8 L747.3 555.52 L745.96 558.08 L744.82 560.27 L743.97 561.87M802.46 605 L802.19 604.5 L801.86 603.87 L801.49 603.13 L801.07 602.29 L800.61 601.34 L800.12 600.3 L799.61 599.19 L799.07 598 L798.52 596.69 L798.32 595.23M811.02 595.16 L810.64 595.16 L809.92 593.55 L809.07 591.86 L808.1 590.15 L807.03 588.43 L805.9 586.77 L804.73 585.21 L803.56 583.73 L802.4 582.32 L801.23 580.94 L800.06 579.6 L798.89 578.29 L797.71 576.98 L796.53 575.67 L795.35 574.35 L794.18 572.99 L793.27 571.55M805.5 568.93 L805.25 568.98 L803.87 567.27 L802.34 565.6 L800.69 564.03 L798.95 562.57 L797.17 561.26 L795.38 560.11 L793.61 559.09 L791.86 558.17 L790.15 557.31 L788.5 556.52 L786.91 555.79 L785.38 555.1 L783.9 554.46 L782.48 553.87 L781.1 553.31 L779.74 552.78 L778.61 552.09M786.53 543.92 L786.32 544.14 L784.49 543.43 L782.64 542.82 L780.81 542.3 L779 541.87 L777.24 541.56 L775.49 541.34 L773.74 541.23 L772.02 541.22 L770.34 541.32 L768.73 541.51 L767.19 541.8 L765.75 542.18 L764.4 542.65 L763.16 543.17 L762.01 543.72 L760.94 544.33 L759.92 545.01 L758.92 545.8 L757.91 546.73 L756.87 547.84 L755.76 549.17 L754.5 550.91 L753.06 553.14 L751.5 555.68 L749.88 558.37 L748.3 560.98M744.97 542.88 L744.98 542.91 L743.68 544.41 L742.59 545.78 L741.77 546.84" fill="none" stroke="#000" stroke-width="1.44" />
<path d="M741.5 545L729.2 543C731.5 548 732 553 730.6 559C729.6 564 729.8 568.5 734.2 573.5" fill="none" stroke="#000" stroke-width="1.67" />
<path d="M729.2 543C733 549 733.5 556 732.6 563C732.2 567 732.8 570.5 734.4 573.2" fill="none" stroke="#000" stroke-width="1.38" />
<path d="M741.5 545C736.5 552 735.2 561 735 573" fill="none" stroke="#000" stroke-width="1.38" />
<path d="M746 548.5C741 555 739.4 563 738.2 571.5C737.5 573 736 573.6 734.4 573.4" fill="none" stroke="#000" stroke-width="1.38" />
<path d="M750.5 552C745.5 557 743.5 563 742.3 569C741.2 571.6 739.6 572.4 738 571.8" fill="none" stroke="#000" stroke-width="1.38" />
<path d="M744.5 565.5C747 560.5 751.5 556.5 756.5 554.5" fill="none" stroke="#000" stroke-width="1.72" />
<path d="M734.3 570V580" fill="none" stroke="#000" stroke-width="3" />
<path d="M734.4 572V617" fill="none" stroke="#000" stroke-width="1.72" />
<use href="#bead" x="734.4" y="585.9" />
<use href="#bead" x="734.4" y="602.5" />
<use href="#bell" x="734.6" y="616.2" />
</g>
<path d="M794 846 L793.96 845.05 L793.93 843.77 L793.89 842.24 L793.84 840.55 L793.76 838.78 L793.64 837.01 L793.45 835.32 L793.2 833.8 L792.88 832.4 L792.51 831.03 L792.1 829.69 L791.63 828.38 L791.12 827.09 L790.56 825.83 L789.95 824.6 L789.3 823.4 L788.6 822.22 L787.87 821.06 L787.09 819.93 L786.26 818.83 L785.38 817.76 L784.44 816.72 L783.45 815.74 L782.4 814.8 L781.29 813.91 L780.11 813.08 L778.87 812.28 L777.58 811.53 L776.24 810.81 L774.86 810.12 L773.45 809.45 L772 808.8 L770.5 808.15 L768.93 807.5 L767.31 806.87 L765.65 806.27 L763.97 805.72 L762.3 805.23 L760.63 804.82 L759 804.5 L757.39 804.27 L755.79 804.12 L754.19 804.03 L752.59 804.01 L751 804.05 L749.4 804.15 L747.8 804.3 L746.2 804.5 L744.59 804.73 L742.98 804.99 L741.37 805.3 L739.76 805.66 L738.15 806.1 L736.53 806.63 L734.92 807.26 L733.3 808 L731.66 808.86 L729.99 809.83 L728.31 810.9 L726.64 812.06 L724.98 813.29 L723.36 814.6 L721.8 815.97 L720.3 817.4 L718.86 818.9 L717.46 820.5 L716.09 822.18 L714.77 823.92 L713.49 825.71 L712.27 827.53 L711.11 829.36 L710 831.2 L708.96 833.04 L707.98 834.91 L707.05 836.81 L706.17 838.73 L705.35 840.68 L704.56 842.66 L703.81 844.66 L703.1 846.7 L702.44 848.78 L701.84 850.9 L701.3 853.06 L700.79 855.24 L700.3 857.44 L699.81 859.64 L699.32 861.83 L698.8 864 L698.26 866.16 L697.72 868.32 L697.19 870.47 L696.65 872.63 L696.11 874.78 L695.57 876.93 L695.04 879.07 L694.5 881.2 L693.97 883.37 L693.43 885.59 L692.91 887.83 L692.38 890.05 L691.84 892.22 L691.3 894.29 L690.76 896.23 L690.2 898 L689.65 899.59 L689.12 901.01 L688.59 902.31 L688.05 903.52 L687.49 904.66 L686.88 905.76 L686.22 906.87 L685.5 908 L684.71 909.15 L683.88 910.28 L683 911.39 L682.08 912.47 L681.12 913.52 L680.12 914.55 L679.08 915.54 L678 916.5 L676.88 917.43 L675.7 918.34 L674.48 919.22 L673.22 920.06 L671.93 920.87 L670.63 921.63 L669.31 922.34 L668 923 L666.66 923.59 L665.28 924.13 L663.88 924.62 L662.46 925.06 L661.05 925.47 L659.66 925.84 L658.31 926.18 L657 926.5 L655.76 926.8 L654.59 927.08 L653.45 927.33 L652.34 927.54 L651.22 927.72 L650.07 927.86 L648.87 927.96 L647.6 928 L646.25 928 L644.84 927.97 L643.38 927.89 L641.9 927.77 L640.4 927.61 L638.91 927.4 L637.44 927.13 L636 926.8 L634.58 926.41 L633.16 925.97 L631.74 925.48 L630.34 924.93 L628.95 924.34 L627.6 923.7 L626.28 923.02 L625 922.3 L623.77 921.54 L622.56 920.74 L621.39 919.89 L620.25 918.99 L619.14 918.06 L618.06 917.08 L617.02 916.06 L616 915 L615.01 913.89 L614.05 912.71 L613.12 911.49 L612.22 910.23 L611.35 908.94 L610.53 907.63 L609.74 906.32 L609 905 L608.3 903.69 L607.65 902.4 L607.04 901.09 L606.47 899.76 L605.93 898.4 L605.43 897 L604.95 895.53 L604.5 894 L604.07 892.28 L603.68 890.34 L603.31 888.29 L602.97 886.21 L602.67 884.23 L602.4 882.43 L602.18 880.92 L602 879.8" fill="none" stroke="#000" stroke-width="1.61" />
<path d="M777.2 846 L777.09 845.02 L776.96 843.68 L776.8 842.08 L776.62 840.33 L776.4 838.52 L776.15 836.76 L775.85 835.15 L775.5 833.8 L775.09 832.67 L774.63 831.65 L774.12 830.73 L773.57 829.89 L772.99 829.11 L772.4 828.38 L771.8 827.68 L771.2 827 L770.6 826.36 L769.98 825.77 L769.35 825.23 L768.71 824.73 L768.05 824.27 L767.38 823.83 L766.69 823.41 L766 823 L765.29 822.6 L764.56 822.23 L763.81 821.88 L763.05 821.56 L762.29 821.25 L761.52 820.98 L760.76 820.73 L760 820.5 L759.26 820.3 L758.54 820.13 L757.83 819.99 L757.11 819.87 L756.38 819.77 L755.63 819.7 L754.84 819.64 L754 819.6 L753.11 819.57 L752.17 819.56 L751.2 819.57 L750.21 819.6 L749.2 819.65 L748.19 819.74 L747.18 819.85 L746.2 820 L745.23 820.18 L744.26 820.37 L743.3 820.6 L742.33 820.85 L741.37 821.14 L740.41 821.48 L739.45 821.86 L738.5 822.3 L737.55 822.79 L736.59 823.33 L735.63 823.91 L734.67 824.54 L733.73 825.22 L732.8 825.94 L731.89 826.7 L731 827.5 L730.13 828.34 L729.28 829.21 L728.45 830.12 L727.62 831.08 L726.82 832.08 L726.03 833.15 L725.26 834.29 L724.5 835.5 L723.75 836.78 L723.01 838.11 L722.29 839.51 L721.58 840.97 L720.89 842.49 L720.23 844.09 L719.6 845.76 L719 847.5 L718.44 849.34 L717.93 851.27 L717.45 853.29 L716.99 855.38 L716.54 857.5 L716.1 859.66 L715.66 861.83 L715.2 864 L714.74 866.19 L714.3 868.44 L713.86 870.73 L713.43 873.03 L712.98 875.33 L712.51 877.61 L712.02 879.84 L711.5 882 L710.95 884.12 L710.38 886.21 L709.79 888.28 L709.17 890.31 L708.54 892.31 L707.89 894.26 L707.21 896.16 L706.5 898 L705.78 899.77 L705.04 901.46 L704.28 903.09 L703.5 904.69 L702.69 906.26 L701.84 907.82 L700.94 909.4 L700 911 L699.03 912.64 L698.04 914.3 L697.03 915.96 L695.97 917.62 L694.85 919.27 L693.66 920.89 L692.38 922.47 L691 924 L689.5 925.5 L687.9 927.01 L686.2 928.49 L684.44 929.94 L682.62 931.33 L680.76 932.65 L678.88 933.88 L677 935 L675.08 936.02 L673.08 936.95 L671.03 937.8 L668.96 938.57 L666.9 939.28 L664.86 939.91 L662.89 940.49 L661 941 L659.22 941.45 L657.52 941.82 L655.88 942.12 L654.28 942.36 L652.67 942.54 L651.04 942.67 L649.36 942.75 L647.6 942.8 L645.75 942.82 L643.84 942.81 L641.88 942.77 L639.9 942.67 L637.9 942.5 L635.91 942.26 L633.94 941.93 L632 941.5 L630.07 940.95 L628.11 940.3 L626.16 939.55 L624.21 938.73 L622.31 937.85 L620.45 936.92 L618.68 935.97 L617 935 L615.41 934.03 L613.89 933.04 L612.43 932.03 L611.03 930.97 L609.69 929.85 L608.41 928.66 L607.18 927.38 L606 926 L604.87 924.5 L603.8 922.88 L602.79 921.16 L601.83 919.38 L600.92 917.54 L600.07 915.69 L599.26 913.83 L598.5 912 L597.78 910.19 L597.09 908.39 L596.45 906.58 L595.86 904.75 L595.33 902.89 L594.87 900.98 L594.49 899.03 L594.2 897 L594.03 894.77 L593.98 892.29 L594.02 889.68 L594.13 887.06 L594.27 884.56 L594.42 882.3 L594.54 880.41 L594.6 879" fill="none" stroke="#000" stroke-width="1.61" />
<path d="M789.8 846 L789.74 845.04 L789.69 843.74 L789.62 842.2 L789.54 840.49 L789.42 838.71 L789.26 836.95 L789.05 835.28 L788.78 833.8 L788.43 832.47 L788.04 831.19 L787.6 829.95 L787.12 828.75 L786.59 827.59 L786.02 826.47 L785.41 825.37 L784.77 824.3 L784.1 823.25 L783.4 822.24 L782.65 821.25 L781.87 820.3 L781.04 819.38 L780.18 818.5 L779.26 817.66 L778.3 816.85 L777.29 816.09 L776.23 815.36 L775.14 814.66 L774.02 813.99 L772.87 813.34 L771.69 812.7 L770.49 812.08 L769.28 811.46 L768.02 810.83 L766.72 810.19 L765.37 809.55 L763.99 808.91 L762.58 808.3 L761.15 807.72 L759.71 807.18 L758.27 806.7 L756.83 806.28 L755.37 805.9 L753.89 805.57 L752.4 805.27 L750.89 805.02 L749.35 804.8 L747.79 804.62 L746.2 804.5M746.2 820 L746.2 819.97 L745.22 819.79 L744.2 819.62 L743.15 819.45 L742.07 819.31 L740.95 819.2 L739.79 819.12 L738.59 819.08 L737.34 819.12 L736.04 819.23 L734.68 819.42 L733.25 819.68 L731.77 820.03 L730.25 820.47 L728.69 821 L727.12 821.63 L725.55 822.36 L723.97 823.18 L722.37 824.12 L720.75 825.17 L719.11 826.33 L717.47 827.61 L715.82 828.98 L714.19 830.44 L712.57 831.96 L710.97 833.55 L709.4 835.22 L707.86 836.95 L706.34 838.75 L705.35 840.68M720.89 842.49 L720.39 842.44 L719.04 843.98 L717.69 845.63 L716.35 847.37 L715.03 849.22 L713.73 851.18 L712.45 853.22 L711.17 855.33 L709.89 857.48 L708.61 859.65 L707.31 861.83 L705.99 864 L704.65 866.17 L703.3 868.36 L701.94 870.55 L700.56 872.72 L699.17 874.88 L697.77 877.02 L696.37 879.13 L694.98 881.22 L693.97 883.37M710.95 884.12 L710.58 884.1 L709.15 886.17 L707.71 888.22 L706.27 890.27 L704.83 892.29 L703.41 894.27 L702.01 896.18 L700.64 898 L699.32 899.7 L698.06 901.26 L696.83 902.72 L695.62 904.09 L694.41 905.39 L693.18 906.63 L691.9 907.84M784.2 846 L784.12 845.03 L784.03 843.72 L783.92 842.15 L783.8 840.42 L783.64 838.63 L783.43 836.86 L783.18 835.22 L782.88 833.8 L782.5 832.56 L782.08 831.39 L781.61 830.3 L781.09 829.26 L780.55 828.27 L779.97 827.32 L779.36 826.4 L778.74 825.5 L778.1 824.63 L777.43 823.81 L776.74 823.02 L776.02 822.27 L775.27 821.55 L774.49 820.87 L773.68 820.21 L772.83 819.58 L771.95 818.98 L771.05 818.41 L770.12 817.86 L769.18 817.33 L768.21 816.82 L767.24 816.32 L766.26 815.83 L765.28 815.36 L764.28 814.88 L763.26 814.4 L762.22 813.92 L761.15 813.45 L760.05 812.98 L758.93 812.54 L757.78 812.12 L756.6 811.73 L755.4 811.38 L754.17 811.05 L752.9 810.75 L751.61 810.47 L750.29 810.22 L748.95 809.99 L747.58 809.8 L746.2 809.64 L744.79 809.49 L743.35 809.36 L741.87 809.25 L740.36 809.19 L738.81 809.17 L737.21 809.22 L735.57 809.35 L733.88 809.59 L732.12 809.95 L730.28 810.42 L728.37 811 L726.64 812.06M734.67 824.54 L734.45 824.19 L733.16 824.45 L731.84 824.78 L730.49 825.21 L729.12 825.72 L727.73 826.33 L726.31 827.02 L724.86 827.82 L723.39 828.72 L721.91 829.73 L720.41 830.85 L718.9 832.08 L717.4 833.39 L715.9 834.8 L714.41 836.28 L712.94 837.85 L711.47 839.5 L710.02 841.23 L708.59 843.03 L707.17 844.9 L705.75 846.83 L704.36 848.84 L703.01 850.93 L701.68 853.07 L700.79 855.24M716.99 855.38 L716.57 855.37 L715.3 857.5 L714.03 859.66 L712.76 861.83 L711.46 864 L710.15 866.18 L708.83 868.4 L707.49 870.63 L706.15 872.86 L704.79 875.07 L703.42 877.24 L702.03 879.39 L700.65 881.49 L699.25 883.6 L697.85 885.75 L696.45 887.92 L695.07 890.09 L693.7 892.23 L692.35 894.29 L691.05 896.23 L690.2 898M706.5 898 L706.08 898 L704.7 899.76 L703.37 901.41 L702.06 902.98 L700.77 904.48 L699.48 905.92 L698.16 907.32 L696.81 908.69M778.6 846 L778.49 845.02 L778.37 843.69 L778.23 842.09 L778.05 840.34 L777.85 838.54 L777.61 836.78 L777.32 835.16 L776.98 833.8 L776.58 832.65 L776.12 831.6 L775.62 830.64 L775.07 829.76 L774.5 828.94 L773.91 828.16 L773.31 827.42 L772.71 826.7 L772.1 826.01 L771.47 825.38 L770.83 824.79 L770.17 824.24 L769.49 823.72 L768.8 823.24 L768.09 822.77 L767.37 822.32 L766.62 821.88 L765.87 821.46 L765.1 821.06 L764.33 820.67 L763.56 820.3 L762.79 819.94 L762.03 819.59 L761.28 819.26 L760.53 818.93 L759.8 818.61 L759.06 818.29 L758.3 817.98 L757.52 817.67 L756.7 817.36 L755.85 817.06 L754.94 816.77 L753.98 816.48 L752.96 816.2 L751.9 815.93 L750.81 815.66 L749.69 815.42 L748.54 815.19 L747.38 814.98 L746.2 814.81 L745 814.64 L743.77 814.49 L742.51 814.35 L741.21 814.25 L739.88 814.18 L738.5 814.17 L737.08 814.22 L735.61 814.36 L734.08 814.59 L732.48 814.92 L730.81 815.34 L729.09 815.87 L727.33 816.5 L725.55 817.23 L723.76 818.06 L721.98 818.99 L720.21 820.04 L718.43 821.21 L716.63 822.52 L714.82 823.95 L713.49 825.71M726.82 832.08 L726.35 831.86 L724.99 832.73 L723.62 833.72 L722.23 834.83 L720.84 836.04 L719.43 837.35 L718.02 838.75 L716.61 840.25 L715.21 841.83 L713.81 843.5 L712.43 845.26 L711.05 847.1 L709.7 849.03 L708.37 851.05 L707.06 853.14 L705.77 855.28 L704.47 857.46 L703.18 859.64 L701.86 861.83 L700.52 864 L699.16 866.16 L697.78 868.32 L697.19 870.47M713.86 870.73 L713.05 870.72 L711.74 872.99 L710.41 875.25 L709.06 877.47 L707.7 879.64 L706.31 881.76 L704.91 883.85 L703.5 885.96 L702.08 888.07 L700.67 890.18 L699.26 892.26 L697.88 894.28 L696.53 896.2 L695.21 898 L693.95 899.63 L692.75 901.12 L691.6 902.46 L690.47 903.7 L689.34 904.85 L688.19 905.95 L687 907" fill="none" stroke="#000" stroke-width="1.32" />
<path d="M688.83 908.69 L687.75 909.89 L686.64 911.06 L685.48 912.2 L684.29 913.29 L683.06 914.34 L681.78 915.33 L680.47 916.27 L679.12 917.15 L677.73 917.98 L676.29 918.75 L674.81 919.48 L673.31 920.15 L671.93 920.87M682.62 931.33 L682.49 931.21 L680.44 932.3 L678.39 933.29 L676.37 934.16 L674.33 934.91 L672.23 935.56 L670.11 936.11 L668 936.58 L665.92 936.97 L663.9 937.3 L661.95 937.57 L660.11 937.79 L658.4 937.97 L656.78 938.09 L655.23 938.15 L653.73 938.17 L652.24 938.14 L650.74 938.05 L649.2 937.92 L647.6 937.73 L645.93 937.49 L644.22 937.21 L642.48 936.89 L640.73 936.51 L638.98 936.07 L637.26 935.57 L635.58 934.99 L633.95 934.34 L632.35 933.61 L630.76 932.79 L629.19 931.91 L627.65 930.98 L626.17 930 L624.74 928.99 L623.37 927.96 L622.09 926.92 L620.87 925.87 L619.71 924.79 L618.59 923.68 L617.53 922.53 L616.51 921.35 L615.54 920.11 L614.61 918.83 L613.72 917.5 L612.88 916.11 L612.09 914.66 L611.33 913.17 L610.62 911.64 L609.94 910.11 L609.31 908.57 L608.72 907.05 L608.17 905.56 L607.66 904.09 L607.19 902.66 L606.77 901.23 L606.38 899.8 L605.93 898.4M595.33 902.89 L595.43 902.85 L595.16 900.87 L594.97 898.86 L594.87 896.8 L594.9 894.56 L595.04 892.08 L595.27 889.49 L595.54 886.93 L595.81 884.5 L596.05 882.33 L596.23 880.52 L596.34 879.19M691.73 909.29 L690.61 910.59 L689.47 911.86 L688.29 913.11 L687.07 914.32 L685.8 915.49 L684.49 916.6 L683.13 917.66 L681.72 918.65 L680.26 919.59 L678.73 920.49 L677.16 921.34 L675.56 922.12 L673.95 922.84 L672.34 923.49 L670.74 924.06 L669.17 924.56 L667.59 924.97 L665.99 925.3 L664.39 925.57 L662.8 925.77 L661.25 925.92 L659.74 926.04 L658.31 926.18M662.89 940.49 L662.87 940.43 L660.91 940.69 L659.09 940.9 L657.36 941.03 L655.72 941.11 L654.12 941.13 L652.53 941.1 L650.93 941.01 L649.3 940.87 L647.6 940.69 L645.83 940.46 L644.02 940.18 L642.18 939.87 L640.33 939.49 L638.48 939.05 L636.66 938.54 L634.88 937.95 L633.15 937.28 L631.45 936.51 L629.75 935.66 L628.07 934.73 L626.43 933.74 L624.84 932.7 L623.31 931.64 L621.86 930.55 L620.49 929.46 L619.2 928.37 L617.97 927.25 L616.8 926.11 L615.68 924.93 L614.62 923.7 L613.6 922.43 L612.64 921.1 L611.72 919.7 L610.86 918.23 L610.04 916.69 L609.27 915.1 L608.54 913.47 L607.86 911.83 L607.22 910.18 L606.62 908.56 L606.07 906.96 L605.55 905.39 L605.08 903.86 L604.65 902.33 L604.26 900.8 L603.91 899.26 L603.61 897.69 L603.34 896.07 L603.11 894.4 L602.93 892.56 L602.8 890.52 L602.7 888.38 L602.61 886.25 L602.52 884.23 L602.4 882.43M594.42 882.3 L594.45 882.31 L594.71 880.42 L594.86 879.03M694.63 909.89 L693.48 911.28 L692.3 912.67 L691.09 914.03 L689.85 915.35 L688.55 916.64 L687.2 917.87 L685.79 919.04 L684.32 920.15 L682.78 921.21 L681.17 922.22 L679.5 923.19 L677.8 924.1 L676.08 924.93 L674.36 925.69 L672.65 926.37 L670.97 926.96 L669.28 927.45 L667.55 927.86 L665.82 928.2 L664.1 928.47 L662.41 928.68 L660.78 928.85 L659.2 928.98 L657.71 929.09 L656.32 929.18 L655.02 929.24 L653.77 929.28 L652.57 929.28 L651.37 929.25 L650.15 929.17 L648.91 929.04 L647.6 928.85 L646.23 928.6 L644.82 928.31 L643.38 927.97 L641.9 927.77M639.9 942.67 L639.93 942.47 L637.98 942.03 L636.06 941.51 L634.18 940.91 L632.35 940.22 L630.54 939.42 L628.74 938.52 L626.95 937.54 L625.2 936.5 L623.51 935.4 L621.88 934.28 L620.34 933.14 L618.89 932 L617.53 930.86 L616.23 929.71 L615.01 928.54 L613.84 927.32 L612.73 926.06 L611.67 924.74 L610.67 923.36 L609.72 921.9 L608.83 920.36 L607.99 918.73 L607.2 917.03 L606.46 915.3 L605.77 913.55 L605.12 911.79 L604.52 910.06 L603.97 908.36 L603.45 906.69 L602.97 905.06 L602.53 903.43 L602.14 901.8 L601.79 900.15 L601.5 898.48 L601.25 896.77 L601.05 895 L600.92 893.06 L600.86 890.91 L600.84 888.66 L600.84 886.42 L600.84 884.3 L600.84 882.4 L600.82 880.83 L600.78 879.67M697.53 910.49 L696.34 911.98 L695.13 913.47 L693.9 914.94 L692.62 916.38 L691.3 917.78 L689.91 919.14 L688.46 920.43 L686.92 921.65 L685.31 922.82 L683.61 923.96 L681.85 925.05 L680.05 926.07 L678.22 927.03 L676.39 927.9 L674.57 928.68 L672.77 929.36 L670.96 929.94 L669.11 930.43 L667.25 930.84 L665.4 931.17 L663.58 931.45 L661.82 931.67 L660.12 931.85 L658.51 931.99 L657.01 932.11 L655.61 932.19 L654.26 932.24 L652.95 932.25 L651.66 932.21 L650.35 932.13 L649 932 L647.6 931.81 L646.13 931.56 L644.62 931.28 L643.08 930.94 L641.53 930.55 L639.98 930.11 L638.46 929.62 L636.98 929.07 L635.55 928.46 L634.16 927.79 L632.78 927.06 L631.42 926.28 L630.1 925.46 L628.83 924.6 L627.59 923.7 L626.28 923.02M618.68 935.97 L618.82 935.73 L617.29 934.54 L615.86 933.36 L614.5 932.17 L613.21 930.96 L611.99 929.72 L610.84 928.42 L609.74 927.06 L608.71 925.62 L607.72 924.1 L606.8 922.48 L605.94 920.76 L605.13 918.97 L604.38 917.13 L603.68 915.27 L603.03 913.4 L602.43 911.56 L601.87 909.76 L601.34 907.99 L600.85 906.25 L600.41 904.53 L600.01 902.8 L599.67 901.05 L599.38 899.28 L599.16 897.47 L598.99 895.6 L598.91 893.56 L598.92 891.3 L598.98 888.93 L599.07 886.59 L599.16 884.37 L599.24 882.38 L599.29 880.73 L599.3 879.51M685.93 908.09 L684.89 909.19 L683.88 910.28M698.04 914.3 L697.97 914.28 L696.71 915.86 L695.4 917.41 L694.04 918.93 L692.62 920.4 L691.12 921.81 L689.52 923.15 L687.83 924.44 L686.05 925.69 L684.19 926.9 L682.29 928.05 L680.36 929.12 L678.41 930.1 L676.48 930.98 L674.57 931.76 L672.64 932.42 L670.67 932.99 L668.68 933.47 L666.7 933.88 L664.75 934.21 L662.86 934.48 L661.04 934.71 L659.31 934.89 L657.7 935.04 L656.19 935.14 L654.75 935.2 L653.34 935.21 L651.95 935.17 L650.54 935.09 L649.1 934.96 L647.6 934.77 L646.03 934.53 L644.42 934.25 L642.78 933.92 L641.13 933.53 L639.48 933.09 L637.86 932.59 L636.28 932.03 L634.75 931.4 L633.25 930.7 L631.77 929.93 L630.31 929.1 L628.88 928.22 L627.5 927.3 L626.17 926.35 L624.89 925.37 L623.69 924.38 L622.54 923.37 L621.44 922.33 L620.38 921.25 L619.37 920.14 L618.4 918.99 L617.47 917.8 L616.57 916.57 L615.72 915.3 L614.91 913.99 L614.05 912.71M603.8 922.88 L603.89 922.79 L603.07 920.9 L602.31 918.96 L601.6 916.99 L600.94 915.02 L600.33 913.06 L599.77 911.16 L599.24 909.29 L598.74 907.45 L598.29 905.62 L597.89 903.79 L597.55 901.95 L597.27 900.08 L597.07 898.17 L596.93 896.2 L596.91 894.06 L596.98 891.69 L597.13 889.21 L597.3 886.76 L597.49 884.43 L597.64 882.35 L597.76 880.62 L597.82 879.35" fill="none" stroke="#000" stroke-width="1.26" />
<g transform="translate(1690 0) scale(-1 1)">
<path d="M794 846 L793.96 845.05 L793.93 843.77 L793.89 842.24 L793.84 840.55 L793.76 838.78 L793.64 837.01 L793.45 835.32 L793.2 833.8 L792.88 832.4 L792.51 831.03 L792.1 829.69 L791.63 828.38 L791.12 827.09 L790.56 825.83 L789.95 824.6 L789.3 823.4 L788.6 822.22 L787.87 821.06 L787.09 819.93 L786.26 818.83 L785.38 817.76 L784.44 816.72 L783.45 815.74 L782.4 814.8 L781.29 813.91 L780.11 813.08 L778.87 812.28 L777.58 811.53 L776.24 810.81 L774.86 810.12 L773.45 809.45 L772 808.8 L770.5 808.15 L768.93 807.5 L767.31 806.87 L765.65 806.27 L763.97 805.72 L762.3 805.23 L760.63 804.82 L759 804.5 L757.39 804.27 L755.79 804.12 L754.19 804.03 L752.59 804.01 L751 804.05 L749.4 804.15 L747.8 804.3 L746.2 804.5 L744.59 804.73 L742.98 804.99 L741.37 805.3 L739.76 805.66 L738.15 806.1 L736.53 806.63 L734.92 807.26 L733.3 808 L731.66 808.86 L729.99 809.83 L728.31 810.9 L726.64 812.06 L724.98 813.29 L723.36 814.6 L721.8 815.97 L720.3 817.4 L718.86 818.9 L717.46 820.5 L716.09 822.18 L714.77 823.92 L713.49 825.71 L712.27 827.53 L711.11 829.36 L710 831.2 L708.96 833.04 L707.98 834.91 L707.05 836.81 L706.17 838.73 L705.35 840.68 L704.56 842.66 L703.81 844.66 L703.1 846.7 L702.44 848.78 L701.84 850.9 L701.3 853.06 L700.79 855.24 L700.3 857.44 L699.81 859.64 L699.32 861.83 L698.8 864 L698.26 866.16 L697.72 868.32 L697.19 870.47 L696.65 872.63 L696.11 874.78 L695.57 876.93 L695.04 879.07 L694.5 881.2 L693.97 883.37 L693.43 885.59 L692.91 887.83 L692.38 890.05 L691.84 892.22 L691.3 894.29 L690.76 896.23 L690.2 898 L689.65 899.59 L689.12 901.01 L688.59 902.31 L688.05 903.52 L687.49 904.66 L686.88 905.76 L686.22 906.87 L685.5 908 L684.71 909.15 L683.88 910.28 L683 911.39 L682.08 912.47 L681.12 913.52 L680.12 914.55 L679.08 915.54 L678 916.5 L676.88 917.43 L675.7 918.34 L674.48 919.22 L673.22 920.06 L671.93 920.87 L670.63 921.63 L669.31 922.34 L668 923 L666.66 923.59 L665.28 924.13 L663.88 924.62 L662.46 925.06 L661.05 925.47 L659.66 925.84 L658.31 926.18 L657 926.5 L655.76 926.8 L654.59 927.08 L653.45 927.33 L652.34 927.54 L651.22 927.72 L650.07 927.86 L648.87 927.96 L647.6 928 L646.25 928 L644.84 927.97 L643.38 927.89 L641.9 927.77 L640.4 927.61 L638.91 927.4 L637.44 927.13 L636 926.8 L634.58 926.41 L633.16 925.97 L631.74 925.48 L630.34 924.93 L628.95 924.34 L627.6 923.7 L626.28 923.02 L625 922.3 L623.77 921.54 L622.56 920.74 L621.39 919.89 L620.25 918.99 L619.14 918.06 L618.06 917.08 L617.02 916.06 L616 915 L615.01 913.89 L614.05 912.71 L613.12 911.49 L612.22 910.23 L611.35 908.94 L610.53 907.63 L609.74 906.32 L609 905 L608.3 903.69 L607.65 902.4 L607.04 901.09 L606.47 899.76 L605.93 898.4 L605.43 897 L604.95 895.53 L604.5 894 L604.07 892.28 L603.68 890.34 L603.31 888.29 L602.97 886.21 L602.67 884.23 L602.4 882.43 L602.18 880.92 L602 879.8" fill="none" stroke="#000" stroke-width="1.61" />
<path d="M777.2 846 L777.09 845.02 L776.96 843.68 L776.8 842.08 L776.62 840.33 L776.4 838.52 L776.15 836.76 L775.85 835.15 L775.5 833.8 L775.09 832.67 L774.63 831.65 L774.12 830.73 L773.57 829.89 L772.99 829.11 L772.4 828.38 L771.8 827.68 L771.2 827 L770.6 826.36 L769.98 825.77 L769.35 825.23 L768.71 824.73 L768.05 824.27 L767.38 823.83 L766.69 823.41 L766 823 L765.29 822.6 L764.56 822.23 L763.81 821.88 L763.05 821.56 L762.29 821.25 L761.52 820.98 L760.76 820.73 L760 820.5 L759.26 820.3 L758.54 820.13 L757.83 819.99 L757.11 819.87 L756.38 819.77 L755.63 819.7 L754.84 819.64 L754 819.6 L753.11 819.57 L752.17 819.56 L751.2 819.57 L750.21 819.6 L749.2 819.65 L748.19 819.74 L747.18 819.85 L746.2 820 L745.23 820.18 L744.26 820.37 L743.3 820.6 L742.33 820.85 L741.37 821.14 L740.41 821.48 L739.45 821.86 L738.5 822.3 L737.55 822.79 L736.59 823.33 L735.63 823.91 L734.67 824.54 L733.73 825.22 L732.8 825.94 L731.89 826.7 L731 827.5 L730.13 828.34 L729.28 829.21 L728.45 830.12 L727.62 831.08 L726.82 832.08 L726.03 833.15 L725.26 834.29 L724.5 835.5 L723.75 836.78 L723.01 838.11 L722.29 839.51 L721.58 840.97 L720.89 842.49 L720.23 844.09 L719.6 845.76 L719 847.5 L718.44 849.34 L717.93 851.27 L717.45 853.29 L716.99 855.38 L716.54 857.5 L716.1 859.66 L715.66 861.83 L715.2 864 L714.74 866.19 L714.3 868.44 L713.86 870.73 L713.43 873.03 L712.98 875.33 L712.51 877.61 L712.02 879.84 L711.5 882 L710.95 884.12 L710.38 886.21 L709.79 888.28 L709.17 890.31 L708.54 892.31 L707.89 894.26 L707.21 896.16 L706.5 898 L705.78 899.77 L705.04 901.46 L704.28 903.09 L703.5 904.69 L702.69 906.26 L701.84 907.82 L700.94 909.4 L700 911 L699.03 912.64 L698.04 914.3 L697.03 915.96 L695.97 917.62 L694.85 919.27 L693.66 920.89 L692.38 922.47 L691 924 L689.5 925.5 L687.9 927.01 L686.2 928.49 L684.44 929.94 L682.62 931.33 L680.76 932.65 L678.88 933.88 L677 935 L675.08 936.02 L673.08 936.95 L671.03 937.8 L668.96 938.57 L666.9 939.28 L664.86 939.91 L662.89 940.49 L661 941 L659.22 941.45 L657.52 941.82 L655.88 942.12 L654.28 942.36 L652.67 942.54 L651.04 942.67 L649.36 942.75 L647.6 942.8 L645.75 942.82 L643.84 942.81 L641.88 942.77 L639.9 942.67 L637.9 942.5 L635.91 942.26 L633.94 941.93 L632 941.5 L630.07 940.95 L628.11 940.3 L626.16 939.55 L624.21 938.73 L622.31 937.85 L620.45 936.92 L618.68 935.97 L617 935 L615.41 934.03 L613.89 933.04 L612.43 932.03 L611.03 930.97 L609.69 929.85 L608.41 928.66 L607.18 927.38 L606 926 L604.87 924.5 L603.8 922.88 L602.79 921.16 L601.83 919.38 L600.92 917.54 L600.07 915.69 L599.26 913.83 L598.5 912 L597.78 910.19 L597.09 908.39 L596.45 906.58 L595.86 904.75 L595.33 902.89 L594.87 900.98 L594.49 899.03 L594.2 897 L594.03 894.77 L593.98 892.29 L594.02 889.68 L594.13 887.06 L594.27 884.56 L594.42 882.3 L594.54 880.41 L594.6 879" fill="none" stroke="#000" stroke-width="1.61" />
<path d="M789.8 846 L789.74 845.04 L789.69 843.74 L789.62 842.2 L789.54 840.49 L789.42 838.71 L789.26 836.95 L789.05 835.28 L788.78 833.8 L788.43 832.47 L788.04 831.19 L787.6 829.95 L787.12 828.75 L786.59 827.59 L786.02 826.47 L785.41 825.37 L784.77 824.3 L784.1 823.25 L783.4 822.24 L782.65 821.25 L781.87 820.3 L781.04 819.38 L780.18 818.5 L779.26 817.66 L778.3 816.85 L777.29 816.09 L776.23 815.36 L775.14 814.66 L774.02 813.99 L772.87 813.34 L771.69 812.7 L770.49 812.08 L769.28 811.46 L768.02 810.83 L766.72 810.19 L765.37 809.55 L763.99 808.91 L762.58 808.3 L761.15 807.72 L759.71 807.18 L758.27 806.7 L756.83 806.28 L755.37 805.9 L753.89 805.57 L752.4 805.27 L750.89 805.02 L749.35 804.8 L747.79 804.62 L746.2 804.5M746.2 820 L746.2 819.97 L745.22 819.79 L744.2 819.62 L743.15 819.45 L742.07 819.31 L740.95 819.2 L739.79 819.12 L738.59 819.08 L737.34 819.12 L736.04 819.23 L734.68 819.42 L733.25 819.68 L731.77 820.03 L730.25 820.47 L728.69 821 L727.12 821.63 L725.55 822.36 L723.97 823.18 L722.37 824.12 L720.75 825.17 L719.11 826.33 L717.47 827.61 L715.82 828.98 L714.19 830.44 L712.57 831.96 L710.97 833.55 L709.4 835.22 L707.86 836.95 L706.34 838.75 L705.35 840.68M720.89 842.49 L720.39 842.44 L719.04 843.98 L717.69 845.63 L716.35 847.37 L715.03 849.22 L713.73 851.18 L712.45 853.22 L711.17 855.33 L709.89 857.48 L708.61 859.65 L707.31 861.83 L705.99 864 L704.65 866.17 L703.3 868.36 L701.94 870.55 L700.56 872.72 L699.17 874.88 L697.77 877.02 L696.37 879.13 L694.98 881.22 L693.97 883.37M710.95 884.12 L710.58 884.1 L709.15 886.17 L707.71 888.22 L706.27 890.27 L704.83 892.29 L703.41 894.27 L702.01 896.18 L700.64 898 L699.32 899.7 L698.06 901.26 L696.83 902.72 L695.62 904.09 L694.41 905.39 L693.18 906.63 L691.9 907.84M784.2 846 L784.12 845.03 L784.03 843.72 L783.92 842.15 L783.8 840.42 L783.64 838.63 L783.43 836.86 L783.18 835.22 L782.88 833.8 L782.5 832.56 L782.08 831.39 L781.61 830.3 L781.09 829.26 L780.55 828.27 L779.97 827.32 L779.36 826.4 L778.74 825.5 L778.1 824.63 L777.43 823.81 L776.74 823.02 L776.02 822.27 L775.27 821.55 L774.49 820.87 L773.68 820.21 L772.83 819.58 L771.95 818.98 L771.05 818.41 L770.12 817.86 L769.18 817.33 L768.21 816.82 L767.24 816.32 L766.26 815.83 L765.28 815.36 L764.28 814.88 L763.26 814.4 L762.22 813.92 L761.15 813.45 L760.05 812.98 L758.93 812.54 L757.78 812.12 L756.6 811.73 L755.4 811.38 L754.17 811.05 L752.9 810.75 L751.61 810.47 L750.29 810.22 L748.95 809.99 L747.58 809.8 L746.2 809.64 L744.79 809.49 L743.35 809.36 L741.87 809.25 L740.36 809.19 L738.81 809.17 L737.21 809.22 L735.57 809.35 L733.88 809.59 L732.12 809.95 L730.28 810.42 L728.37 811 L726.64 812.06M734.67 824.54 L734.45 824.19 L733.16 824.45 L731.84 824.78 L730.49 825.21 L729.12 825.72 L727.73 826.33 L726.31 827.02 L724.86 827.82 L723.39 828.72 L721.91 829.73 L720.41 830.85 L718.9 832.08 L717.4 833.39 L715.9 834.8 L714.41 836.28 L712.94 837.85 L711.47 839.5 L710.02 841.23 L708.59 843.03 L707.17 844.9 L705.75 846.83 L704.36 848.84 L703.01 850.93 L701.68 853.07 L700.79 855.24M716.99 855.38 L716.57 855.37 L715.3 857.5 L714.03 859.66 L712.76 861.83 L711.46 864 L710.15 866.18 L708.83 868.4 L707.49 870.63 L706.15 872.86 L704.79 875.07 L703.42 877.24 L702.03 879.39 L700.65 881.49 L699.25 883.6 L697.85 885.75 L696.45 887.92 L695.07 890.09 L693.7 892.23 L692.35 894.29 L691.05 896.23 L690.2 898M706.5 898 L706.08 898 L704.7 899.76 L703.37 901.41 L702.06 902.98 L700.77 904.48 L699.48 905.92 L698.16 907.32 L696.81 908.69M778.6 846 L778.49 845.02 L778.37 843.69 L778.23 842.09 L778.05 840.34 L777.85 838.54 L777.61 836.78 L777.32 835.16 L776.98 833.8 L776.58 832.65 L776.12 831.6 L775.62 830.64 L775.07 829.76 L774.5 828.94 L773.91 828.16 L773.31 827.42 L772.71 826.7 L772.1 826.01 L771.47 825.38 L770.83 824.79 L770.17 824.24 L769.49 823.72 L768.8 823.24 L768.09 822.77 L767.37 822.32 L766.62 821.88 L765.87 821.46 L765.1 821.06 L764.33 820.67 L763.56 820.3 L762.79 819.94 L762.03 819.59 L761.28 819.26 L760.53 818.93 L759.8 818.61 L759.06 818.29 L758.3 817.98 L757.52 817.67 L756.7 817.36 L755.85 817.06 L754.94 816.77 L753.98 816.48 L752.96 816.2 L751.9 815.93 L750.81 815.66 L749.69 815.42 L748.54 815.19 L747.38 814.98 L746.2 814.81 L745 814.64 L743.77 814.49 L742.51 814.35 L741.21 814.25 L739.88 814.18 L738.5 814.17 L737.08 814.22 L735.61 814.36 L734.08 814.59 L732.48 814.92 L730.81 815.34 L729.09 815.87 L727.33 816.5 L725.55 817.23 L723.76 818.06 L721.98 818.99 L720.21 820.04 L718.43 821.21 L716.63 822.52 L714.82 823.95 L713.49 825.71M726.82 832.08 L726.35 831.86 L724.99 832.73 L723.62 833.72 L722.23 834.83 L720.84 836.04 L719.43 837.35 L718.02 838.75 L716.61 840.25 L715.21 841.83 L713.81 843.5 L712.43 845.26 L711.05 847.1 L709.7 849.03 L708.37 851.05 L707.06 853.14 L705.77 855.28 L704.47 857.46 L703.18 859.64 L701.86 861.83 L700.52 864 L699.16 866.16 L697.78 868.32 L697.19 870.47M713.86 870.73 L713.05 870.72 L711.74 872.99 L710.41 875.25 L709.06 877.47 L707.7 879.64 L706.31 881.76 L704.91 883.85 L703.5 885.96 L702.08 888.07 L700.67 890.18 L699.26 892.26 L697.88 894.28 L696.53 896.2 L695.21 898 L693.95 899.63 L692.75 901.12 L691.6 902.46 L690.47 903.7 L689.34 904.85 L688.19 905.95 L687 907" fill="none" stroke="#000" stroke-width="1.32" />
<path d="M688.83 908.69 L687.75 909.89 L686.64 911.06 L685.48 912.2 L684.29 913.29 L683.06 914.34 L681.78 915.33 L680.47 916.27 L679.12 917.15 L677.73 917.98 L676.29 918.75 L674.81 919.48 L673.31 920.15 L671.93 920.87M682.62 931.33 L682.49 931.21 L680.44 932.3 L678.39 933.29 L676.37 934.16 L674.33 934.91 L672.23 935.56 L670.11 936.11 L668 936.58 L665.92 936.97 L663.9 937.3 L661.95 937.57 L660.11 937.79 L658.4 937.97 L656.78 938.09 L655.23 938.15 L653.73 938.17 L652.24 938.14 L650.74 938.05 L649.2 937.92 L647.6 937.73 L645.93 937.49 L644.22 937.21 L642.48 936.89 L640.73 936.51 L638.98 936.07 L637.26 935.57 L635.58 934.99 L633.95 934.34 L632.35 933.61 L630.76 932.79 L629.19 931.91 L627.65 930.98 L626.17 930 L624.74 928.99 L623.37 927.96 L622.09 926.92 L620.87 925.87 L619.71 924.79 L618.59 923.68 L617.53 922.53 L616.51 921.35 L615.54 920.11 L614.61 918.83 L613.72 917.5 L612.88 916.11 L612.09 914.66 L611.33 913.17 L610.62 911.64 L609.94 910.11 L609.31 908.57 L608.72 907.05 L608.17 905.56 L607.66 904.09 L607.19 902.66 L606.77 901.23 L606.38 899.8 L605.93 898.4M595.33 902.89 L595.43 902.85 L595.16 900.87 L594.97 898.86 L594.87 896.8 L594.9 894.56 L595.04 892.08 L595.27 889.49 L595.54 886.93 L595.81 884.5 L596.05 882.33 L596.23 880.52 L596.34 879.19M691.73 909.29 L690.61 910.59 L689.47 911.86 L688.29 913.11 L687.07 914.32 L685.8 915.49 L684.49 916.6 L683.13 917.66 L681.72 918.65 L680.26 919.59 L678.73 920.49 L677.16 921.34 L675.56 922.12 L673.95 922.84 L672.34 923.49 L670.74 924.06 L669.17 924.56 L667.59 924.97 L665.99 925.3 L664.39 925.57 L662.8 925.77 L661.25 925.92 L659.74 926.04 L658.31 926.18M662.89 940.49 L662.87 940.43 L660.91 940.69 L659.09 940.9 L657.36 941.03 L655.72 941.11 L654.12 941.13 L652.53 941.1 L650.93 941.01 L649.3 940.87 L647.6 940.69 L645.83 940.46 L644.02 940.18 L642.18 939.87 L640.33 939.49 L638.48 939.05 L636.66 938.54 L634.88 937.95 L633.15 937.28 L631.45 936.51 L629.75 935.66 L628.07 934.73 L626.43 933.74 L624.84 932.7 L623.31 931.64 L621.86 930.55 L620.49 929.46 L619.2 928.37 L617.97 927.25 L616.8 926.11 L615.68 924.93 L614.62 923.7 L613.6 922.43 L612.64 921.1 L611.72 919.7 L610.86 918.23 L610.04 916.69 L609.27 915.1 L608.54 913.47 L607.86 911.83 L607.22 910.18 L606.62 908.56 L606.07 906.96 L605.55 905.39 L605.08 903.86 L604.65 902.33 L604.26 900.8 L603.91 899.26 L603.61 897.69 L603.34 896.07 L603.11 894.4 L602.93 892.56 L602.8 890.52 L602.7 888.38 L602.61 886.25 L602.52 884.23 L602.4 882.43M594.42 882.3 L594.45 882.31 L594.71 880.42 L594.86 879.03M694.63 909.89 L693.48 911.28 L692.3 912.67 L691.09 914.03 L689.85 915.35 L688.55 916.64 L687.2 917.87 L685.79 919.04 L684.32 920.15 L682.78 921.21 L681.17 922.22 L679.5 923.19 L677.8 924.1 L676.08 924.93 L674.36 925.69 L672.65 926.37 L670.97 926.96 L669.28 927.45 L667.55 927.86 L665.82 928.2 L664.1 928.47 L662.41 928.68 L660.78 928.85 L659.2 928.98 L657.71 929.09 L656.32 929.18 L655.02 929.24 L653.77 929.28 L652.57 929.28 L651.37 929.25 L650.15 929.17 L648.91 929.04 L647.6 928.85 L646.23 928.6 L644.82 928.31 L643.38 927.97 L641.9 927.77M639.9 942.67 L639.93 942.47 L637.98 942.03 L636.06 941.51 L634.18 940.91 L632.35 940.22 L630.54 939.42 L628.74 938.52 L626.95 937.54 L625.2 936.5 L623.51 935.4 L621.88 934.28 L620.34 933.14 L618.89 932 L617.53 930.86 L616.23 929.71 L615.01 928.54 L613.84 927.32 L612.73 926.06 L611.67 924.74 L610.67 923.36 L609.72 921.9 L608.83 920.36 L607.99 918.73 L607.2 917.03 L606.46 915.3 L605.77 913.55 L605.12 911.79 L604.52 910.06 L603.97 908.36 L603.45 906.69 L602.97 905.06 L602.53 903.43 L602.14 901.8 L601.79 900.15 L601.5 898.48 L601.25 896.77 L601.05 895 L600.92 893.06 L600.86 890.91 L600.84 888.66 L600.84 886.42 L600.84 884.3 L600.84 882.4 L600.82 880.83 L600.78 879.67M697.53 910.49 L696.34 911.98 L695.13 913.47 L693.9 914.94 L692.62 916.38 L691.3 917.78 L689.91 919.14 L688.46 920.43 L686.92 921.65 L685.31 922.82 L683.61 923.96 L681.85 925.05 L680.05 926.07 L678.22 927.03 L676.39 927.9 L674.57 928.68 L672.77 929.36 L670.96 929.94 L669.11 930.43 L667.25 930.84 L665.4 931.17 L663.58 931.45 L661.82 931.67 L660.12 931.85 L658.51 931.99 L657.01 932.11 L655.61 932.19 L654.26 932.24 L652.95 932.25 L651.66 932.21 L650.35 932.13 L649 932 L647.6 931.81 L646.13 931.56 L644.62 931.28 L643.08 930.94 L641.53 930.55 L639.98 930.11 L638.46 929.62 L636.98 929.07 L635.55 928.46 L634.16 927.79 L632.78 927.06 L631.42 926.28 L630.1 925.46 L628.83 924.6 L627.59 923.7 L626.28 923.02M618.68 935.97 L618.82 935.73 L617.29 934.54 L615.86 933.36 L614.5 932.17 L613.21 930.96 L611.99 929.72 L610.84 928.42 L609.74 927.06 L608.71 925.62 L607.72 924.1 L606.8 922.48 L605.94 920.76 L605.13 918.97 L604.38 917.13 L603.68 915.27 L603.03 913.4 L602.43 911.56 L601.87 909.76 L601.34 907.99 L600.85 906.25 L600.41 904.53 L600.01 902.8 L599.67 901.05 L599.38 899.28 L599.16 897.47 L598.99 895.6 L598.91 893.56 L598.92 891.3 L598.98 888.93 L599.07 886.59 L599.16 884.37 L599.24 882.38 L599.29 880.73 L599.3 879.51M685.93 908.09 L684.89 909.19 L683.88 910.28M698.04 914.3 L697.97 914.28 L696.71 915.86 L695.4 917.41 L694.04 918.93 L692.62 920.4 L691.12 921.81 L689.52 923.15 L687.83 924.44 L686.05 925.69 L684.19 926.9 L682.29 928.05 L680.36 929.12 L678.41 930.1 L676.48 930.98 L674.57 931.76 L672.64 932.42 L670.67 932.99 L668.68 933.47 L666.7 933.88 L664.75 934.21 L662.86 934.48 L661.04 934.71 L659.31 934.89 L657.7 935.04 L656.19 935.14 L654.75 935.2 L653.34 935.21 L651.95 935.17 L650.54 935.09 L649.1 934.96 L647.6 934.77 L646.03 934.53 L644.42 934.25 L642.78 933.92 L641.13 933.53 L639.48 933.09 L637.86 932.59 L636.28 932.03 L634.75 931.4 L633.25 930.7 L631.77 929.93 L630.31 929.1 L628.88 928.22 L627.5 927.3 L626.17 926.35 L624.89 925.37 L623.69 924.38 L622.54 923.37 L621.44 922.33 L620.38 921.25 L619.37 920.14 L618.4 918.99 L617.47 917.8 L616.57 916.57 L615.72 915.3 L614.91 913.99 L614.05 912.71M603.8 922.88 L603.89 922.79 L603.07 920.9 L602.31 918.96 L601.6 916.99 L600.94 915.02 L600.33 913.06 L599.77 911.16 L599.24 909.29 L598.74 907.45 L598.29 905.62 L597.89 903.79 L597.55 901.95 L597.27 900.08 L597.07 898.17 L596.93 896.2 L596.91 894.06 L596.98 891.69 L597.13 889.21 L597.3 886.76 L597.49 884.43 L597.64 882.35 L597.76 880.62 L597.82 879.35" fill="none" stroke="#000" stroke-width="1.26" />
</g>
<path d="M584.6 736.2V791M604.2 736.2V791" fill="none" stroke="#000" stroke-width="1.61" />
<path d="M606.3 749V791" fill="none" stroke="#444" stroke-width="0.92" />
<path d="M584.6 736.2H604.2" fill="none" stroke="#000" stroke-width="1.49" />
<path d="M562.8 651.8H626.8L647.6 748.4H542.4Z" fill="none" stroke="#000" stroke-width="1.72" />
<path d="M563.2 652.4C578 659 592.5 662.5 593.3 674.5C593.5 677 593.4 679.5 593 681.5" fill="none" stroke="#000" stroke-width="2.3" />
<path d="M626.4 652.4C611.6 659 598.8 662.5 598 674.5C597.8 677 598.2 679.5 598.6 681.5" fill="none" stroke="#000" stroke-width="2.3" />
<path d="M592.6 679.5C588.5 688 580.8 703 580.8 715.5C580.8 724 583 730.5 584.6 736.2" fill="none" stroke="#000" stroke-width="1.38" />
<path d="M598.6 679.5C602.5 688 608.6 703 608.6 715.5C608.6 724 606 730.5 604.2 736.2" fill="none" stroke="#000" stroke-width="1.38" />
<path d="M595 680.8C591.5 683.5 583.2 700 583.2 710.5C583.2 718.5 588 722.6 594.6 722.6C601.2 722.6 606 718.5 606 710.5C606 700 598.5 683.5 595 680.8Z" fill="none" stroke="#000" stroke-width="2.3" />
<path d="M566 790.2H624L618.2 795.6C613.5 800.5 611.6 806 611.6 812C611.6 818 613.5 821.5 612.6 825.5C611.8 829 609 831 607.6 832.6H581.8C580.4 831 577.6 829 576.8 825.5C575.9 821.5 577.8 818 577.8 812C577.8 806 575.9 800.5 571.2 795.6Z" fill="#fff" stroke="none"/>
<path d="M571.6 795.8C575.9 800.5 577.8 806 577.8 812C577.8 818 575.9 821.5 576.8 825.5C577.6 829 580.4 831 581.8 832.6H607.6C609 831 611.8 829 612.6 825.5C613.5 821.5 611.6 818 611.6 812C611.6 806 613.5 800.5 617.8 795.8Z" fill="url(#cupp)" stroke="#000" stroke-width="1.5"/>
<path d="M565.6 790.2H624.4" fill="none" stroke="#000" stroke-width="1.84" />
<path d="M566 790.2L571.6 795.8M624 790.2L617.8 795.8" fill="none" stroke="#000" stroke-width="1.61" />
<path d="M571.6 795.8Q575.45 793.4 579.3 795.8Q583.15 793.4 587 795.8Q590.85 793.4 594.7 795.8Q598.55 793.4 602.4 795.8Q606.25 793.4 610.1 795.8Q613.95 793.4 617.8 795.8" fill="none" stroke="#000" stroke-width="1.38" />
<path d="M584.6 790V796M604.2 790V796" fill="none" stroke="#000" stroke-width="1.38" />
<path d="M581.8 832.8C584 836 585 839 585 842.2H605.2C605.2 839 606.2 836 607.8 832.8Z" fill="#fff" stroke="#000" stroke-width="1.4"/>
<path d="M585 842.2C585 845.5 584 848.5 582.2 851H608C606.2 848.5 605.2 845.5 605.2 842.2Z" fill="#fff" stroke="#000" stroke-width="1.4"/>
<path d="M547.4 852.6Q552.2 849.6 557 852.4Q561.8 849.6 566.6 852.4Q571.4 849.6 576.2 852.4Q581 849.6 585.8 852.4Q590.6 849.6 595.4 852.4Q600.2 849.6 605 852.4Q609.8 849.6 614.6 852.4Q619.4 849.6 624.2 852.4Q629 849.6 633.8 852.4Q638.6 849.6 643.4 852.4L642.4 855H548.4Z" fill="#fff" stroke="none"/>
<path d="M547.4 852.6Q552.2 849.6 557 852.4Q561.8 849.6 566.6 852.4Q571.4 849.6 576.2 852.4Q581 849.6 585.8 852.4Q590.6 849.6 595.4 852.4Q600.2 849.6 605 852.4Q609.8 849.6 614.6 852.4Q619.4 849.6 624.2 852.4Q629 849.6 633.8 852.4Q638.6 849.6 643.4 852.4" fill="none" stroke="#000" stroke-width="1.72" />
<path d="M548.6 855C551.5 866 562 875 576 877.4H614.6C628.6 875 639 866 642 855Z" fill="#fff" stroke="none"/>
<path d="M548.6 855C551.5 866 562 875 576 877.4H614.6C628.6 875 639 866 642 855Z" fill="url(#dish)" stroke="#000" stroke-width="1.5"/>
<path d="M547.4 854.2H643.2" fill="none" stroke="#000" stroke-width="2.9" />
<path d="M575 877.6H616" fill="none" stroke="#000" stroke-width="1.95" />
<path d="M578.8 853V868M610.4 853V868" fill="none" stroke="#000" stroke-width="1.15" />
<g transform="translate(1690 0) scale(-1 1)">
<path d="M584.6 736.2V791M604.2 736.2V791" fill="none" stroke="#000" stroke-width="1.61" />
<path d="M582.6 749V791" fill="none" stroke="#444" stroke-width="0.92" />
<path d="M584.6 736.2H604.2" fill="none" stroke="#000" stroke-width="1.49" />
<path d="M562.8 651.8H626.8L647.6 748.4H542.4Z" fill="none" stroke="#000" stroke-width="1.72" />
<path d="M563.2 652.4C578 659 592.5 662.5 593.3 674.5C593.5 677 593.4 679.5 593 681.5" fill="none" stroke="#000" stroke-width="2.3" />
<path d="M626.4 652.4C611.6 659 598.8 662.5 598 674.5C597.8 677 598.2 679.5 598.6 681.5" fill="none" stroke="#000" stroke-width="2.3" />
<path d="M592.6 679.5C588.5 688 580.8 703 580.8 715.5C580.8 724 583 730.5 584.6 736.2" fill="none" stroke="#000" stroke-width="1.38" />
<path d="M598.6 679.5C602.5 688 608.6 703 608.6 715.5C608.6 724 606 730.5 604.2 736.2" fill="none" stroke="#000" stroke-width="1.38" />
<path d="M595 680.8C591.5 683.5 583.2 700 583.2 710.5C583.2 718.5 588 722.6 594.6 722.6C601.2 722.6 606 718.5 606 710.5C606 700 598.5 683.5 595 680.8Z" fill="none" stroke="#000" stroke-width="2.3" />
<path d="M566 790.2H624L618.2 795.6C613.5 800.5 611.6 806 611.6 812C611.6 818 613.5 821.5 612.6 825.5C611.8 829 609 831 607.6 832.6H581.8C580.4 831 577.6 829 576.8 825.5C575.9 821.5 577.8 818 577.8 812C577.8 806 575.9 800.5 571.2 795.6Z" fill="#fff" stroke="none"/>
<path d="M571.6 795.8C575.9 800.5 577.8 806 577.8 812C577.8 818 575.9 821.5 576.8 825.5C577.6 829 580.4 831 581.8 832.6H607.6C609 831 611.8 829 612.6 825.5C613.5 821.5 611.6 818 611.6 812C611.6 806 613.5 800.5 617.8 795.8Z" fill="url(#cupp)" stroke="#000" stroke-width="1.5"/>
<path d="M565.6 790.2H624.4" fill="none" stroke="#000" stroke-width="1.84" />
<path d="M566 790.2L571.6 795.8M624 790.2L617.8 795.8" fill="none" stroke="#000" stroke-width="1.61" />
<path d="M571.6 795.8Q575.45 793.4 579.3 795.8Q583.15 793.4 587 795.8Q590.85 793.4 594.7 795.8Q598.55 793.4 602.4 795.8Q606.25 793.4 610.1 795.8Q613.95 793.4 617.8 795.8" fill="none" stroke="#000" stroke-width="1.38" />
<path d="M584.6 790V796M604.2 790V796" fill="none" stroke="#000" stroke-width="1.38" />
<path d="M581.8 832.8C584 836 585 839 585 842.2H605.2C605.2 839 606.2 836 607.8 832.8Z" fill="#fff" stroke="#000" stroke-width="1.4"/>
<path d="M585 842.2C585 845.5 584 848.5 582.2 851H608C606.2 848.5 605.2 845.5 605.2 842.2Z" fill="#fff" stroke="#000" stroke-width="1.4"/>
<path d="M547.4 852.6Q552.2 849.6 557 852.4Q561.8 849.6 566.6 852.4Q571.4 849.6 576.2 852.4Q581 849.6 585.8 852.4Q590.6 849.6 595.4 852.4Q600.2 849.6 605 852.4Q609.8 849.6 614.6 852.4Q619.4 849.6 624.2 852.4Q629 849.6 633.8 852.4Q638.6 849.6 643.4 852.4L642.4 855H548.4Z" fill="#fff" stroke="none"/>
<path d="M547.4 852.6Q552.2 849.6 557 852.4Q561.8 849.6 566.6 852.4Q571.4 849.6 576.2 852.4Q581 849.6 585.8 852.4Q590.6 849.6 595.4 852.4Q600.2 849.6 605 852.4Q609.8 849.6 614.6 852.4Q619.4 849.6 624.2 852.4Q629 849.6 633.8 852.4Q638.6 849.6 643.4 852.4" fill="none" stroke="#000" stroke-width="1.72" />
<path d="M548.6 855C551.5 866 562 875 576 877.4H614.6C628.6 875 639 866 642 855Z" fill="#fff" stroke="none"/>
<path d="M548.6 855C551.5 866 562 875 576 877.4H614.6C628.6 875 639 866 642 855Z" fill="url(#dish)" stroke="#000" stroke-width="1.5"/>
<path d="M547.4 854.2H643.2" fill="none" stroke="#000" stroke-width="2.9" />
<path d="M575 877.6H616" fill="none" stroke="#000" stroke-width="1.95" />
<path d="M578.8 853V868M610.4 853V868" fill="none" stroke="#000" stroke-width="1.15" />
</g>
<use href="#crystal" x="548.6" y="864.2" />
<use href="#crystal" x="640.8" y="864.2" />
<path d="M584.4 878V923" fill="none" stroke="#000" stroke-width="1.72" />
<use href="#bead" x="584.4" y="891.4" />
<use href="#bead" x="584.4" y="908.6" />
<use href="#bell" x="584.5" y="921.6" />
<g transform="translate(1690 0) scale(-1 1)">
<use href="#crystal" x="548.6" y="864.2" />
<use href="#crystal" x="640.8" y="864.2" />
<path d="M584.4 878V923" fill="none" stroke="#000" stroke-width="1.72" />
<use href="#bead" x="584.4" y="891.4" />
<use href="#bead" x="584.4" y="908.6" />
<use href="#bell" x="584.5" y="921.6" />
</g>
<path d="M787.4 630 L787.2 648.6 L787 669 L786.6 688 L785.8 707 L784 726 L781.8 745.2 L778.7 763.8 L775.5 782.2 L770.8 801.5 L764.7 818.7 L758.3 837.7 L749.7 855 L739.7 871 L728 886.2 L712.5 898.2 L696.5 908.2 L677.6 912 L659.8 912.8 L640.3 907.4 L623.4 897.9 L608.8 885.4 L601 879" fill="none" stroke="#000" stroke-width="1.26" />
<path d="M728 886.2 L721 905.5 L713.5 922.8 L707.5 941.8 L702.8 961 L700.2 981 L698.6 1000.4 L698.2 1012.5" fill="none" stroke="#000" stroke-width="1.26" />
<use href="#bead" x="787.2" y="648.6" />
<use href="#bead" x="787" y="669" />
<use href="#bead" x="786.6" y="688" />
<use href="#bead" x="785.8" y="707" />
<use href="#bead" x="784" y="726" />
<use href="#bead" x="781.8" y="745.2" />
<use href="#bead" x="778.7" y="763.8" />
<use href="#bead" x="775.5" y="782.2" />
<use href="#bead" x="770.8" y="801.5" />
<use href="#bead" x="764.7" y="818.7" />
<use href="#bead" x="758.3" y="837.7" />
<use href="#bead" x="749.7" y="855" />
<use href="#bead" x="739.7" y="871" />
<use href="#bead" x="728" y="886.2" />
<use href="#bead" x="712.5" y="898.2" />
<use href="#bead" x="696.5" y="908.2" />
<use href="#bead" x="677.6" y="912" />
<use href="#bead" x="659.8" y="912.8" />
<use href="#bead" x="640.3" y="907.4" />
<use href="#bead" x="623.4" y="897.9" />
<use href="#bead" x="608.8" y="885.4" />
<use href="#bead" x="721" y="905.5" />
<use href="#bead" x="713.5" y="922.8" />
<use href="#bead" x="707.5" y="941.8" />
<use href="#bead" x="702.8" y="961" />
<use href="#bead" x="700.2" y="981" />
<use href="#bead" x="698.6" y="1000.4" />
<g transform="translate(1690 0) scale(-1 1)">
<path d="M787.4 630 L787.2 648.6 L787 669 L786.6 688 L785.8 707 L784 726 L781.8 745.2 L778.7 763.8 L775.5 782.2 L770.8 801.5 L764.7 818.7 L758.3 837.7 L749.7 855 L739.7 871 L728 886.2 L712.5 898.2 L696.5 908.2 L677.6 912 L659.8 912.8 L640.3 907.4 L623.4 897.9 L608.8 885.4 L601 879" fill="none" stroke="#000" stroke-width="1.26" />
<path d="M728 886.2 L721 905.5 L713.5 922.8 L707.5 941.8 L702.8 961 L700.2 981 L698.6 1000.4 L698.2 1012.5" fill="none" stroke="#000" stroke-width="1.26" />
<use href="#bead" x="787.2" y="648.6" />
<use href="#bead" x="787" y="669" />
<use href="#bead" x="786.6" y="688" />
<use href="#bead" x="785.8" y="707" />
<use href="#bead" x="784" y="726" />
<use href="#bead" x="781.8" y="745.2" />
<use href="#bead" x="778.7" y="763.8" />
<use href="#bead" x="775.5" y="782.2" />
<use href="#bead" x="770.8" y="801.5" />
<use href="#bead" x="764.7" y="818.7" />
<use href="#bead" x="758.3" y="837.7" />
<use href="#bead" x="749.7" y="855" />
<use href="#bead" x="739.7" y="871" />
<use href="#bead" x="728" y="886.2" />
<use href="#bead" x="712.5" y="898.2" />
<use href="#bead" x="696.5" y="908.2" />
<use href="#bead" x="677.6" y="912" />
<use href="#bead" x="659.8" y="912.8" />
<use href="#bead" x="640.3" y="907.4" />
<use href="#bead" x="623.4" y="897.9" />
<use href="#bead" x="608.8" y="885.4" />
<use href="#bead" x="721" y="905.5" />
<use href="#bead" x="713.5" y="922.8" />
<use href="#bead" x="707.5" y="941.8" />
<use href="#bead" x="702.8" y="961" />
<use href="#bead" x="700.2" y="981" />
<use href="#bead" x="698.6" y="1000.4" />
</g>
<path d="M1139.74 554.16A150.2 101.6 0 1 1 1143.91 569.09" fill="none" stroke="#000" stroke-width="1.49" />
<path d="M1139.74 554.16 L1137.31 555.68 L1134.2 557.61 L1130.52 559.9 L1126.35 562.5 L1121.78 565.36 L1116.93 568.43 L1111.87 571.66 L1106.7 575 L1101.15 578.6 L1095 582.56 L1088.46 586.79 L1081.72 591.18 L1074.98 595.62 L1068.43 600.03 L1062.27 604.29 L1056.7 608.3 L1051.73 612.05 L1047.18 615.63 L1042.95 619.09 L1038.96 622.5 L1035.09 625.91 L1031.25 629.37 L1027.36 632.95 L1023.3 636.7 L1019.13 640.6 L1014.97 644.6 L1010.81 648.68 L1006.64 652.83 L1002.48 657.05 L998.32 661.32 L994.16 665.64 L990 670 L985.69 674.58 L981.17 679.48 L976.56 684.54 L972 689.6 L967.61 694.5 L963.51 699.09 L959.83 703.21 L956.7 706.7 L954.32 709.3 L952.65 711.06 L951.47 712.25 L950.56 713.18 L949.68 714.13 L948.61 715.39 L947.12 717.25 L945 720 L942.04 723.95 L938.37 728.94 L934.26 734.59 L929.97 740.53 L925.77 746.36 L921.94 751.71 L918.72 756.18 L916.4 759.4" fill="none" stroke="#000" stroke-width="1.38" stroke-linejoin="round"/>
<path d="M1143.91 569.09 L1141.13 570.74 L1137.53 572.82 L1133.25 575.3 L1128.43 578.11 L1123.23 581.2 L1117.77 584.53 L1112.22 588.05 L1106.7 591.7 L1100.95 595.67 L1094.71 600.1 L1088.16 604.84 L1081.46 609.74 L1074.8 614.69 L1068.33 619.52 L1062.24 624.1 L1056.7 628.3 L1051.73 632.08 L1047.18 635.55 L1042.95 638.82 L1038.96 641.96 L1035.09 645.06 L1031.25 648.21 L1027.36 651.49 L1023.3 655 L1019.08 658.77 L1014.77 662.73 L1010.44 666.82 L1006.12 670.96 L1001.88 675.08 L997.74 679.13 L993.76 683.02 L990 686.7 L986.38 690.25 L982.81 693.79 L979.36 697.26 L976.04 700.6 L972.91 703.77 L970 706.71 L967.35 709.37 L965 711.7 L963.23 713.41 L962.12 714.45 L961.41 715.06 L960.85 715.51 L960.19 716.07 L959.16 717 L957.52 718.55 L955 721 L951.28 724.67 L946.46 729.45 L940.92 734.96 L935.08 740.78 L929.3 746.53 L924.01 751.82 L919.57 756.24 L916.4 759.4" fill="none" stroke="#000" stroke-width="1.38" stroke-linejoin="round"/>
<path d="M1295 447l2.6 4.5h-5.2z" fill="#000"/>
<path d="M1295 450V544" fill="none" stroke="#000" stroke-width="4.2" />
<circle cx="1295" cy="452.5" r="3.7" fill="#000"/>
<circle cx="1295" cy="459.1" r="3.7" fill="#000"/>
<circle cx="1295" cy="465.7" r="3.7" fill="#000"/>
<circle cx="1295" cy="472.3" r="3.7" fill="#000"/>
<circle cx="1295" cy="478.9" r="3.7" fill="#000"/>
<circle cx="1295" cy="485.5" r="3.7" fill="#000"/>
<circle cx="1295" cy="492.1" r="3.7" fill="#000"/>
<circle cx="1295" cy="498.7" r="3.7" fill="#000"/>
<circle cx="1295" cy="505.3" r="3.7" fill="#000"/>
<circle cx="1295" cy="511.9" r="3.7" fill="#000"/>
<circle cx="1295" cy="518.5" r="3.7" fill="#000"/>
<circle cx="1295" cy="525.1" r="3.7" fill="#000"/>
<circle cx="1295" cy="531.7" r="3.7" fill="#000"/>
<circle cx="1295" cy="538.3" r="3.7" fill="#000"/>
<path d="M1289 548L1295 536L1301 548Z" fill="#000"/>
<circle cx="1289" cy="547" r="3.5" fill="#000"/>
<circle cx="1284.85" cy="553.44" r="3.5" fill="#000"/>
<circle cx="1280.11" cy="559.46" r="3.5" fill="#000"/>
<circle cx="1274.76" cy="564.94" r="3.5" fill="#000"/>
<circle cx="1268.82" cy="569.78" r="3.5" fill="#000"/>
<circle cx="1262.33" cy="573.86" r="3.5" fill="#000"/>
<circle cx="1255.35" cy="577.02" r="3.5" fill="#000"/>
<circle cx="1247.99" cy="579.12" r="3.5" fill="#000"/>
<circle cx="1240.38" cy="579.99" r="3.5" fill="#000"/>
<circle cx="1232.74" cy="579.48" r="3.5" fill="#000"/>
<circle cx="1225.36" cy="577.48" r="3.5" fill="#000"/>
<circle cx="1218.57" cy="573.95" r="3.5" fill="#000"/>
<circle cx="1212.7" cy="569.04" r="3.5" fill="#000"/>
<circle cx="1208" cy="563" r="3.5" fill="#000"/>
<path d="M1289 547 L1284.85 553.44 L1280.11 559.46 L1274.76 564.94 L1268.82 569.78 L1262.33 573.86 L1255.35 577.02 L1247.99 579.12 L1240.38 579.99 L1232.74 579.48 L1225.36 577.48 L1218.57 573.95 L1212.7 569.04 L1208 563" fill="none" stroke="#000" stroke-width="2.53" />
<circle cx="1301" cy="547" r="3.5" fill="#000"/>
<circle cx="1305.15" cy="553.44" r="3.5" fill="#000"/>
<circle cx="1309.89" cy="559.46" r="3.5" fill="#000"/>
<circle cx="1315.24" cy="564.94" r="3.5" fill="#000"/>
<circle cx="1321.18" cy="569.78" r="3.5" fill="#000"/>
<circle cx="1327.67" cy="573.86" r="3.5" fill="#000"/>
<circle cx="1334.65" cy="577.02" r="3.5" fill="#000"/>
<circle cx="1342.01" cy="579.12" r="3.5" fill="#000"/>
<circle cx="1349.62" cy="579.99" r="3.5" fill="#000"/>
<circle cx="1357.26" cy="579.48" r="3.5" fill="#000"/>
<circle cx="1364.64" cy="577.48" r="3.5" fill="#000"/>
<circle cx="1371.43" cy="573.95" r="3.5" fill="#000"/>
<circle cx="1377.3" cy="569.04" r="3.5" fill="#000"/>
<circle cx="1382" cy="563" r="3.5" fill="#000"/>
<path d="M1301 547 L1305.15 553.44 L1309.89 559.46 L1315.24 564.94 L1321.18 569.78 L1327.67 573.86 L1334.65 577.02 L1342.01 579.12 L1349.62 579.99 L1357.26 579.48 L1364.64 577.48 L1371.43 573.95 L1377.3 569.04 L1382 563" fill="none" stroke="#000" stroke-width="2.53" />
<rect x="1193.8" y="506" width="10" height="23" rx="0" fill="#fff" stroke="#000" stroke-width="1.38"/>
<path d="M1185.8 528.4H1211.8L1206.8 535C1206.3 540 1206.3 544 1207.3 548.4H1190.3C1191.3 544 1191.3 540 1190.8 535Z" fill="#111"/>
<path d="M1177.4 550.8H1220.2C1217.8 558 1211.8 562.5 1207.8 564.4H1189.8C1185.8 562.5 1179.8 558 1177.4 550.8Z" fill="#111"/>
<path d="M1183.8 555.5H1213.8" fill="none" stroke="#777" stroke-width="0.92" />
<rect x="1194.3" y="564" width="9" height="21" rx="1.5" fill="#bbb" stroke="#000" stroke-width="1.2"/>
<path d="M1194.6 569.5L1203 565M1194.6 573.7L1203 569.2M1194.6 577.9L1203 573.4M1194.6 582.1L1203 577.6M1194.6 586.3L1203 581.8" fill="none" stroke="#000" stroke-width="1.49" />
<rect x="1386.6" y="506" width="10" height="23" rx="0" fill="#fff" stroke="#000" stroke-width="1.38"/>
<path d="M1378.6 528.4H1404.6L1399.6 535C1399.1 540 1399.1 544 1400.1 548.4H1383.1C1384.1 544 1384.1 540 1383.6 535Z" fill="#111"/>
<path d="M1370.2 550.8H1413C1410.6 558 1404.6 562.5 1400.6 564.4H1382.6C1378.6 562.5 1372.6 558 1370.2 550.8Z" fill="#111"/>
<path d="M1376.6 555.5H1406.6" fill="none" stroke="#777" stroke-width="0.92" />
<rect x="1387.1" y="564" width="9" height="21" rx="1.5" fill="#bbb" stroke="#000" stroke-width="1.2"/>
<path d="M1387.4 569.5L1395.8 565M1387.4 573.7L1395.8 569.2M1387.4 577.9L1395.8 573.4M1387.4 582.1L1395.8 577.6M1387.4 586.3L1395.8 581.8" fill="none" stroke="#000" stroke-width="1.49" />
<circle cx="1166.3" cy="564.2" r="3.6" fill="#fff" stroke="#000" stroke-width="1.9"/>
<path d="M1166.3 557.4V560.4M1166.3 568V571M1159.4 564.2H1162.4M1170.2 564.2H1173.2" fill="none" stroke="#000" stroke-width="2.53" />
<path d="M1170 564.4C1177 563 1183 563 1189 563.4" fill="none" stroke="#000" stroke-width="1.26" />
<path d="M671.5 601H728" fill="none" stroke="#000" stroke-width="1.38" />
<path d="M728 601l-4.5 -1.5v3z" fill="#000"/>
<path d="M743.5 744.6H773.5" fill="none" stroke="#000" stroke-width="1.38" />
<path d="M774 744.6l-4.5 -1.5v3z" fill="#000"/>
<path d="M493 903.3H547" fill="none" stroke="#000" stroke-width="1.38" />
<path d="M547 903.3l-4.5 -1.5v3z" fill="#000"/>
<path d="M531.5 968H545.4L579.3 912.2" fill="none" stroke="#000" stroke-width="1.38" />
<path d="M757 998H791" fill="none" stroke="#000" stroke-width="1.38" />
<path d="M791 998l-4.5 -1.5v3z" fill="#000"/>
<path d="M756.6 1079.2H787L839.3 996.4" fill="none" stroke="#000" stroke-width="1.38" />
<text x="798" y="157.4" font-family="'Liberation Serif', serif" font-weight="bold" font-size="25.5" textLength="103" lengthAdjust="spacingAndGlyphs" fill="#000" stroke="#000" stroke-width="0.8" stroke-linejoin="round">W75*H65CM</text>
<text x="590.7" y="607.4" font-family="'Liberation Serif', serif" font-weight="bold" font-size="25.5" textLength="80.4" lengthAdjust="spacingAndGlyphs" fill="#000" stroke="#000" stroke-width="0.8" stroke-linejoin="round">A:16PCS</text>
<text x="674.7" y="750.9" font-family="'Liberation Serif', serif" font-weight="bold" font-size="25.5" textLength="68.4" lengthAdjust="spacingAndGlyphs" fill="#000" stroke="#000" stroke-width="0.8" stroke-linejoin="round">B:8PCS</text>
<text x="413.2" y="909.7" font-family="'Liberation Serif', serif" font-weight="bold" font-size="25.5" textLength="79.3" lengthAdjust="spacingAndGlyphs" fill="#000" stroke="#000" stroke-width="0.8" stroke-linejoin="round">C:72PCS</text>
<text x="519.2" y="974.8" font-family="'Liberation Serif', serif" font-weight="bold" font-size="25.5" textLength="11.6" lengthAdjust="spacingAndGlyphs" fill="#000" stroke="#000" stroke-width="0.8" stroke-linejoin="round">A</text>
<text x="743.6" y="1003.3" font-family="'Liberation Serif', serif" font-weight="bold" font-size="25.5" textLength="12" lengthAdjust="spacingAndGlyphs" fill="#000" stroke="#000" stroke-width="0.8" stroke-linejoin="round">C</text>
<text x="684.7" y="1086.1" font-family="'Liberation Serif', serif" font-weight="bold" font-size="25.5" textLength="68.4" lengthAdjust="spacingAndGlyphs" fill="#000" stroke="#000" stroke-width="0.8" stroke-linejoin="round">D:1PCS</text>
<text x="1322" y="508.4" font-family="'Liberation Serif', serif" font-weight="bold" font-size="22.5" textLength="11.6" lengthAdjust="spacingAndGlyphs" fill="#000" stroke="#000" stroke-width="0.8" stroke-linejoin="round">B</text>
<text x="542.1" y="1181.2" font-family="'Liberation Sans', sans-serif" font-size="33" fill="#000" textLength="603.6" lengthAdjust="spacingAndGlyphs">Наименование товара: PRINCESS SP8</text>
</svg>
</body></html>
